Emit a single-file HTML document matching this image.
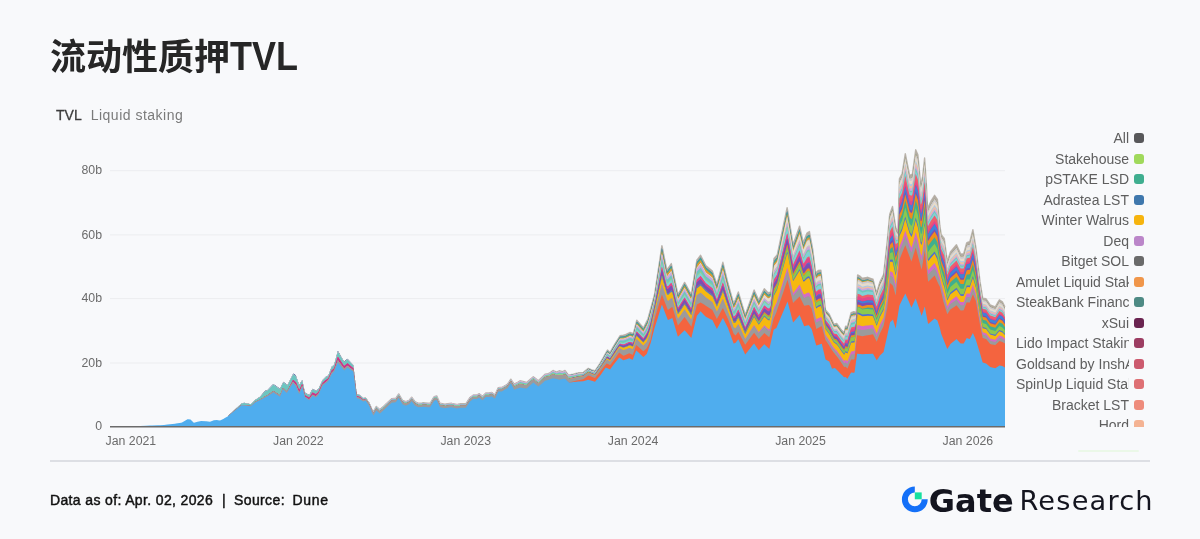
<!DOCTYPE html>
<html lang="zh"><head><meta charset="utf-8"><title>流动性质押TVL</title>
<style>
html,body{margin:0;padding:0}
body{width:1200px;height:539px;background:#f8f9fb;position:relative;overflow:hidden;font-family:"Liberation Sans","Noto Sans CJK SC",sans-serif}
.title{position:absolute;left:50px;top:32.5px;font-size:36px;line-height:50px;font-weight:700;color:#262626;white-space:nowrap;letter-spacing:0}
.lat{display:inline-block;transform:scaleY(1.14);transform-origin:50% 76%}
.sub{position:absolute;left:56px;top:106px;font-size:14px;line-height:18px;color:#7a7a7a;white-space:nowrap;letter-spacing:0.5px}
.sub b{font-weight:400;color:#3c3c3c;-webkit-text-stroke:0.3px #3c3c3c;margin-right:9px;letter-spacing:0}
svg.chart{position:absolute;left:0;top:0}
svg.chart text{font-family:"Liberation Sans",sans-serif;font-size:12.3px;fill:#6b6b6b}
.legend{position:absolute;left:1016px;top:128px;width:130px;height:299px;overflow:hidden}
.li{height:20.5px;display:flex;align-items:center;justify-content:flex-end}
.lt{display:block;width:113px;overflow:hidden;white-space:nowrap;text-align:right;font-size:14px;line-height:20.5px;color:#5e5e5e}
.li i{display:block;width:10px;height:10px;border-radius:3px;margin-left:5px;margin-right:2px;flex:none}
.rule{position:absolute;left:50px;top:459.9px;width:1100.4px;height:1.9px;background:#dddfe4}
.gl{position:absolute;left:1078px;top:450px;width:61px;height:1.8px;border-radius:1px;background:#ebf8e8}
.foot{position:absolute;left:50px;top:490px;font-size:14px;line-height:20px;color:#111;white-space:nowrap;font-weight:400;-webkit-text-stroke:0.45px #111;letter-spacing:0.36px}
.lg{position:absolute;left:928.8px;top:480.6px;font-family:"DejaVu Sans","Liberation Sans",sans-serif;font-weight:700;font-size:32px;line-height:40px;color:#14151f;white-space:nowrap;letter-spacing:0}
.lr{position:absolute;left:1019.5px;top:480.8px;font-family:"DejaVu Sans","Liberation Sans",sans-serif;font-weight:400;font-size:27.2px;line-height:40px;color:#14151f;white-space:nowrap;letter-spacing:1.2px}
#wrap{position:absolute;left:0;top:0;width:1200px;height:539px;will-change:transform;transform:translateZ(0)}
</style></head><body><div id="wrap">
<div class="title">流动性质押<span class="lat">TVL</span></div>
<div class="sub"><b>TVL</b>Liquid staking</div>
<svg class="chart" width="1200" height="539" viewBox="0 0 1200 539">
<line x1="110" x2="1005" y1="170.7" y2="170.7" stroke="#ecedef" stroke-width="1"/>
<line x1="110" x2="1005" y1="234.9" y2="234.9" stroke="#ecedef" stroke-width="1"/>
<line x1="110" x2="1005" y1="298.6" y2="298.6" stroke="#ecedef" stroke-width="1"/>
<line x1="110" x2="1005" y1="363" y2="363" stroke="#ecedef" stroke-width="1"/>
<path d="M373.3,411.6L374,410.5L376.3,406.4L379.7,409.6L380,409.4L386,403.9L386.7,403.3L391.7,398.8L392,398.8L395.8,398.3L398,394.9L398.7,393.9L402.5,400.3L404,400.9L405.8,401.7L409.2,400.3L410,399.3L411.7,397.2L415,401.7L416,402.2L418.3,403.3L422,403L423.3,402.8L428,403.2L430,403.3L434,396.9L434.2,396.7L436.7,395.9L440,403.3L445,404.2L446,404L451.7,403.3L452,403.4L456.7,404.5L458,404.3L460.8,403.8L464,403.8L465.8,403.8L470,397.5L473.3,395L476,395L476.7,395L479.2,393.7L482,395.9L482.5,396.3L485.8,393L488,393L489.2,393L491.7,392.5L494,394L495,394.7L498.3,387.6L500,387.5L501.7,387.5L506,385L507.5,384.2L510.8,379.2L512,380.9L514.2,384.1L518,382L520,380.8L524,381.8L526.7,382.5L530,379.6L533.3,376.7L536,378.9L538.3,380.8L542,377.2L545,374.2L548,373.6L549.2,373.3L553,370.5L554,371L556.7,372.1L559.2,370.8L560,371L562.5,371.7L565,370.5L566,371.8L568.3,375L569.2,374.9L572,374.4L573.3,374.2L576.7,373.3L578,372.9L578.3,372.8L583.3,372.5L584,371.9L588.3,368.4L590,369.2L591.7,370L595,370.8L596,369.3L600,363.3L602,359.8L603.3,357.6L605.8,353.1L606.7,351.4L607.5,350L608,350.5L610,352.5L613.3,346.7L614,345.5L614.5,344.6L619.2,337.1L620,335.8L620.1,335.7L623.3,335.1L625.6,334.6L626,334.4L629.2,332.8L630.1,332.4L632,333.1L632.8,333.3L633.4,333.5L636.2,322.4L636.8,320.2L638,321.6L643.3,327.8L643.4,327.9L644,326.8L646.7,321.4L647.9,319L650,311.3L650.5,309.5L650.8,308.4L654.6,294.3L656,285L661.9,245.7L662,246L666.8,270L667.9,268.4L668,268.3L671.3,263.6L672.4,268.7L674,276.2L677.9,294.4L680,290.8L684.6,282.4L686,284.8L691.3,294.6L692,290.2L696.9,260L698,258.6L700.6,255.2L704,262L705.8,265.6L710,269.1L712.4,271.1L716,281.8L716.9,284.5L722,265.7L722.9,262.3L728,283.3L733.6,303.5L734,302.6L735.6,299.2L738.3,292L740,297.4L745.2,315L746,312.8L752,295.9L754.1,290L758,298.5L758.8,300.1L764,289.3L764.3,288.7L768,292.7L769.3,292.3L770,292.1L770.8,291.8L773.6,262.4L774,258.4L776,256.2L776.4,255.7L777.3,254.7L782,232.2L787.1,207.6L787.5,209.7L788,212.8L793.1,244.5L794,241.9L799.6,226.1L800,227.9L803.3,242.6L804.2,240.3L806,235.6L807,233L808.8,231.9L809.4,231.5L811.6,243.2L812,245.3L812.6,248.6L815.7,273.2L816.3,272.6L818,270.6L818.1,270.5L820.9,270.1L821.8,278L823.7,294.7L824,297.2L825.5,310L829.3,314.2L830,315.7L832,320.1L833.9,324.3L834.8,324L836,323.6L836.7,323.4L838.5,325.9L841.3,329.8L842,330.6L844.1,332.7L845.6,326.1L847.4,326.5L848,324.3L851.1,312.7L853.9,311.6L854,311.7L854.5,311.9L856.3,312.6L857.1,289.7L857.6,274.9L860,276.2L862.3,278.2L866,277.6L867.8,277.3L872,278.8L873,279.2L876.5,292.9L876.7,292.6L878,288.2L879.9,281.9L883.6,274.5L884,270.8L887.3,240.3L889.7,214.4L890,213.4L890.1,213.2L892.5,206.4L892.9,209L895.7,227.3L896,228.1L897.9,232.2L899.4,178.9L902,173.7L902.2,173.1L905.3,153.6L908,167.2L909.6,175.2L911.4,174.6L912.4,174L914,162.3L915.7,149.8L917.9,154.8L920,177L920.7,184.5L921.6,180.9L922.6,176.7L924.6,158L924.8,160.9L926,178.7L926.3,183.3L927.6,208.6L928.1,207.5L930.9,201.2L932,199.5L934.6,195.3L937.4,199.4L938,205.8L938.3,209L939.8,225.2L941.2,234.3L943.3,237.3L944,238.2L944.3,238.7L947.3,261.7L950,253.2L950.4,251.9L956,245.3L956.5,244.7L960.6,253.9L962,253.9L963.7,253.8L966.7,242.8L968,242.2L969.8,241.6L972.9,229.6L974,236.2L975.9,247.6L980,281.4L982.7,298.2L986,298.8L986.1,298.8L990.2,304.9L992,305.6L995.3,306.9L998,302.2L999.4,299.8L1002.4,301.8L1004,305.1L1004.9,306.9L1005,306.9" fill="none" stroke="#bdb7b0" stroke-width="1.4" stroke-linejoin="round"/>
<path d="M228.8,426.3V415.4L230,414.2L236,408.6L241.7,403.3L242,403.2L244.2,402.7L248,403.5L250.8,404.2L254,401L255,400L260,396.7L265,390.8L266,390.5L267.5,390L272,385.2L273.3,383.9L278,387.2L280,388.7L283,382.4L283.3,381.7L284,382.2L286.7,384.4L287.5,385L290,380L293,374L293.3,373.4L295.8,375.3L296,375.8L299.2,384.9L302,380.3L302.2,380.1L305,392.5L308,394.3L309.2,394.9L312.5,388.8L314,389.6L315.8,390.5L318.3,389.2L320,385.5L322.5,380L325.8,376.7L326,376.6L328.3,375.5L331.7,366.6L332,366.4L334.2,364.5L337.8,351L338,351.1L344,361.4L344.2,361.6L347.5,358.8L350,361.5L353.3,365L356,387.9L356.7,393.7L360,395L362,396.8L363.3,398L365.8,397.7L368,400.8L369.2,402.6L373.3,411.6L374,410.5L376.3,406.4L379.7,409.6L380,409.4L386,403.9L386.7,403.3L391.7,398.8L392,398.8L395.8,398.3L398,394.9L398.7,393.9L402.5,400.3L404,400.9L405.8,401.7L409.2,400.3L410,399.3L411.7,397.2L415,401.7L416,402.2L418.3,403.3L422,403L423.3,402.8L428,403.2L430,403.3L434,396.9L434.2,396.7L436.7,395.9L440,403.3L445,404.2L446,404L451.7,403.3L452,403.4L456.7,404.5L458,404.3L460.8,403.8L464,403.8L465.8,403.8L470,397.5L473.3,395L476,395L476.7,395L479.2,393.7L482,395.9L482.5,396.3L485.8,393L488,393L489.2,393L491.7,392.5L494,394L495,394.7L498.3,387.6L500,387.5L501.7,387.5L506,385L507.5,384.2L510.8,379.2L512,380.9L514.2,384.1L518,382L520,380.8L524,381.8L526.7,382.5L530,379.6L533.3,376.7L536,378.9L538.3,380.8L542,377.2L545,374.2L548,373.6L549.2,373.3L553,370.5L554,371L556.7,372.1L559.2,370.8L560,371L562.5,371.7L565,370.5L566,371.8L568.3,375L569.2,374.9L572,374.4L573.3,374.2L576.7,373.3L578,372.9L578.3,372.8L583.3,372.5L584,371.9L588.3,368.4L590,369.2L591.7,370L595,370.8L596,369.3L600,363.3L602,359.8L603.3,357.6L605.8,353.1L606.7,351.4L607.5,350L608,350.5L610,352.5L613.3,346.7L614,345.5L614.5,344.6L619.2,337.1L620,335.8L620.1,335.7L623.3,335.1L625.6,334.6L626,334.4L629.2,332.8L630.1,332.4L632,333.1L632.8,333.3L633.4,333.5L636.2,322.4L636.8,320.2L638,321.6L643.3,327.8L643.4,327.9L644,326.8L646.7,321.4L647.9,319L650,311.3L650.5,309.5L650.8,308.4L654.6,294.3L656,285L661.9,245.7L662,246L666.8,270L667.9,268.4L668,268.3L671.3,263.6L672.4,268.7L674,276.2L677.9,294.4L680,290.8L684.6,282.4L686,284.8L691.3,294.6L692,290.2L696.9,260L698,258.6L700.6,255.2L704,262L705.8,265.6L710,269.1L712.4,271.1L716,281.8L716.9,284.5L722,265.7L722.9,262.3L728,283.3L733.6,303.5L734,302.6L735.6,299.2L738.3,292L740,297.4L745.2,315L746,312.8L752,295.9L754.1,290L758,298.5L758.8,300.1L764,289.3L764.3,288.7L768,292.7L769.3,292.3L770,292.1L770.8,291.8L773.6,262.4L774,258.4L776,256.2L776.4,255.7L777.3,254.7L782,232.2L787.1,207.6L787.5,209.7L788,212.8L793.1,244.5L794,241.9L799.6,226.1L800,227.9L803.3,242.6L804.2,240.3L806,235.6L807,233L808.8,231.9L809.4,231.5L811.6,243.2L812,245.3L812.6,248.6L815.7,273.2L816.3,272.6L818,270.6L818.1,270.5L820.9,270.1L821.8,278L823.7,294.7L824,297.2L825.5,310L829.3,314.2L830,315.7L832,320.1L833.9,324.3L834.8,324L836,323.6L836.7,323.4L838.5,325.9L841.3,329.8L842,330.6L844.1,332.7L845.6,326.1L847.4,326.5L848,324.3L851.1,312.7L853.9,311.6L854,311.7L854.5,311.9L856.3,312.6L857.1,289.7L857.6,274.9L860,276.2L862.3,278.2L866,277.6L867.8,277.3L872,278.8L873,279.2L876.5,292.9L876.7,292.6L878,288.2L879.9,281.9L883.6,274.5L884,270.8L887.3,240.3L889.7,214.4L890,213.4L890.1,213.2L892.5,206.4L892.9,209L895.7,227.3L896,228.1L897.9,232.2L899.4,178.9L902,173.7L902.2,173.1L905.3,153.6L908,167.2L909.6,175.2L911.4,174.6L912.4,174L914,162.3L915.7,149.8L917.9,154.8L920,177L920.7,184.5L921.6,180.9L922.6,176.7L924.6,158L924.8,160.9L926,178.7L926.3,183.3L927.6,208.6L928.1,207.5L930.9,201.2L932,199.5L934.6,195.3L937.4,199.4L938,205.8L938.3,209L939.8,225.2L941.2,234.3L943.3,237.3L944,238.2L944.3,238.7L947.3,261.7L950,253.2L950.4,251.9L956,245.3L956.5,244.7L960.6,253.9L962,253.9L963.7,253.8L966.7,242.8L968,242.2L969.8,241.6L972.9,229.6L974,236.2L975.9,247.6L980,281.4L982.7,298.2L986,298.8L986.1,298.8L990.2,304.9L992,305.6L995.3,306.9L998,302.2L999.4,299.8L1002.4,301.8L1004,305.1L1004.9,306.9L1005,306.9V426.3Z" fill="#b3aca2"/>
<path d="M228.8,426.3V415.4L230,414.2L236,408.6L241.7,403.3L242,403.2L244.2,402.7L248,403.5L250.8,404.2L254,401L255,400L260,396.7L265,390.8L266,390.5L267.5,390L272,385.2L273.3,383.9L278,387.2L280,388.7L283,382.4L283.3,381.7L284,382.2L286.7,384.4L287.5,385L290,380L293,374L293.3,373.4L295.8,375.3L296,375.8L299.2,384.9L302,380.3L302.2,380.1L305,392.5L308,394.3L309.2,394.9L312.5,388.8L314,389.6L315.8,390.5L318.3,389.2L320,385.5L322.5,380L325.8,376.7L326,376.6L328.3,375.5L331.7,366.6L332,366.4L334.2,364.5L337.8,351L338,351.1L344,361.4L344.2,361.6L347.5,358.8L350,361.5L353.3,365L356,387.9L356.7,393.7L360,395L362,396.8L363.3,398L365.8,397.7L368,400.8L369.2,402.6L373.3,411.6L374,410.5L376.3,406.4L379.7,409.6L380,409.4L386,404L386.7,403.3L391.7,398.9L392,398.8L395.8,398.4L398,394.9L398.7,393.9L402.5,400.4L404,401L405.8,401.7L409.2,400.3L410,399.3L411.7,397.3L415,401.7L416,402.2L418.3,403.4L422,403L423.3,402.9L428,403.2L430,403.4L434,397L434.2,396.7L436.7,396L440,403.4L445,404.2L446,404.1L451.7,403.4L452,403.5L456.7,404.6L458,404.4L460.8,403.9L464,403.9L465.8,403.9L470,397.6L473.3,395.1L476,395.1L476.7,395.1L479.2,393.8L482,396.1L482.5,396.5L485.8,393.2L488,393.1L489.2,393.1L491.7,392.6L494,394.1L495,394.8L498.3,387.7L500,387.6L501.7,387.6L506,385.2L507.5,384.3L510.8,379.4L512,381.1L514.2,384.4L518,382.2L520,381.1L524,382.1L526.7,382.7L530,379.8L533.3,376.9L536,379.1L538.3,381.1L542,377.5L545,374.5L548,373.9L549.2,373.6L553,370.9L554,371.3L556.7,372.5L559.2,371.3L560,371.5L562.5,372L565,370.9L566,372.3L568.3,375.3L569.2,375.3L572,374.8L573.3,374.6L576.7,373.7L578,373.4L578.3,373.3L583.3,372.9L584,372.4L588.3,368.8L590,369.6L591.7,370.4L595,371.3L596,369.8L600,363.9L602,360.5L603.3,358.2L605.8,353.8L606.7,352.2L607.5,350.9L608,351.4L610,353.4L613.3,347.6L614,346.4L614.5,345.6L619.2,338.1L620,336.9L620.1,336.8L623.3,336.4L625.6,335.9L626,335.7L629.2,334.1L630.1,333.7L632,334.3L632.8,334.6L633.4,334.7L636.2,323.7L636.8,321.7L638,323L643.3,329.1L643.4,329.2L644,328.1L646.7,322.9L647.9,320.4L650,312.9L650.5,311.1L650.8,309.9L654.6,295.6L656,286.5L661.9,248.1L662,248.4L666.8,271.9L667.9,270.5L668,270.3L671.3,265.7L672.4,270.6L674,278L677.9,295.9L680,292.4L684.6,284.1L686,286.5L691.3,296.1L692,291.9L696.9,262.2L698,260.8L700.6,257.5L704,264.1L705.8,267.6L710,271.1L712.4,273.1L716,283.6L716.9,286.2L722,267.8L722.9,264.6L728,285.1L733.6,305L734,304.2L735.6,301L738.3,293.9L740,299.3L745.2,316.5L746,314.3L752,297.9L754.1,292.1L758,300.5L758.8,302L764,291.5L764.3,290.9L768,294.9L769.3,294.6L770,294.2L770.8,293.8L773.6,265.1L774,261.3L776,259L776.4,258.5L777.3,257.4L782,235.2L787.1,211.1L787.5,213L788,216L793.1,247.2L794,244.7L799.6,229.3L800,231.1L803.3,245.4L804.2,243.2L806,238.7L807,236.3L808.8,235.2L809.4,234.8L811.6,246L812,248.1L812.6,251.4L815.7,275.5L816.3,275.1L818,273.1L818.1,273L820.9,272.6L821.8,280L823.7,296.3L824,298.8L825.5,311.3L829.3,315.5L830,317L832,321.4L833.9,325.5L834.8,325.2L836,324.9L836.7,324.7L838.5,327.3L841.3,331.2L842,331.9L844.1,334L845.6,327.7L847.4,328.1L848,326L851.1,314.5L853.9,313.5L854,313.5L854.5,313.7L856.3,313.7L857.1,291.4L857.6,277.2L860,278.5L862.3,280.5L866,279.8L867.8,279.5L872,280.9L873,281.3L876.5,294.7L876.7,294.5L878,290.2L879.9,283.9L883.6,276.5L884,272.9L887.3,242.9L889.7,217.2L890,216.1L890.1,215.8L892.5,209.5L892.9,212L895.7,229.9L896,230.5L897.9,233.8L899.4,182L902,176.8L902.2,176.2L905.3,157.2L908,170.6L909.6,178.5L911.4,178.1L912.4,177.4L914,165.9L915.7,153.8L917.9,158.9L920,180.5L920.7,187.8L921.6,184.6L922.6,180.3L924.6,161.8L924.8,164.6L926,182.1L926.3,186.6L927.6,211.4L928.1,210.5L930.9,204.5L932,202.8L934.6,198.7L937.4,202.8L938,209.1L938.3,212.2L939.8,227.8L941.2,236.8L943.3,240L944,241L944.3,241.5L947.3,264L950,255.7L950.4,254.4L956,248L956.5,247.4L960.6,256.4L962,256.4L963.7,256.3L966.7,245.5L968,245L969.8,244.4L972.9,232.6L974,239L975.9,250.1L980,283.4L982.7,300L986,300.6L986.1,300.7L990.2,306.8L992,307.5L995.3,308.8L998,304.2L999.4,301.8L1002.4,303.8L1004,306.9L1004.9,308.7L1005,308.7V426.3Z" fill="#3b5aa8"/>
<path d="M228.8,426.3V415.4L230,414.2L236,408.7L241.7,403.5L242,403.4L244.2,402.9L248,403.7L250.8,404.3L254,401.2L255,400.2L260,397L265,391.4L266,391.1L267.5,390.5L272,385.9L273.3,384.6L278,387.9L280,389.3L283,382.9L283.3,382.4L284,382.9L286.7,385.1L287.5,385.5L290,380.6L293,374.7L293.3,374.2L295.8,376.2L296,376.7L299.2,385.7L302,380.8L302.2,380.7L305,392.9L308,394.7L309.2,395.4L312.5,389.4L314,390.1L315.8,391L318.3,389.7L320,386L322.5,380.5L325.8,377.2L326,377.1L328.3,375.9L331.7,367.2L332,367L334.2,365.1L337.8,351.9L338,352L344,362.1L344.2,362.3L347.5,359.5L350,362.1L353.3,365.5L356,388.3L356.7,394L360,395.2L362,397L363.3,398.1L365.8,397.8L368,400.9L369.2,402.6L373.3,411.6L374,410.5L376.3,406.4L379.7,409.6L380,409.4L386,404L386.7,403.3L391.7,398.9L392,398.8L395.8,398.4L398,394.9L398.7,393.9L402.5,400.4L404,401L405.8,401.7L409.2,400.3L410,399.3L411.7,397.3L415,401.7L416,402.2L418.3,403.4L422,403L423.3,402.9L428,403.2L430,403.4L434,397L434.2,396.7L436.7,396L440,403.4L445,404.2L446,404.1L451.7,403.4L452,403.5L456.7,404.6L458,404.4L460.8,403.9L464,403.9L465.8,403.9L470,397.6L473.3,395.1L476,395.1L476.7,395.1L479.2,393.8L482,396.1L482.5,396.5L485.8,393.2L488,393.1L489.2,393.1L491.7,392.6L494,394.1L495,394.8L498.3,387.7L500,387.6L501.7,387.6L506,385.2L507.5,384.3L510.8,379.4L512,381.1L514.2,384.4L518,382.2L520,381.1L524,382.1L526.7,382.7L530,379.8L533.3,376.9L536,379.1L538.3,381.1L542,377.5L545,374.5L548,373.9L549.2,373.6L553,370.9L554,371.3L556.7,372.5L559.2,371.3L560,371.5L562.5,372L565,370.9L566,372.3L568.3,375.3L569.2,375.3L572,374.8L573.3,374.6L576.7,373.7L578,373.4L578.3,373.3L583.3,372.9L584,372.4L588.3,368.8L590,369.6L591.7,370.4L595,371.3L596,369.8L600,363.9L602,360.5L603.3,358.2L605.8,353.8L606.7,352.2L607.5,350.9L608,351.4L610,353.4L613.3,347.6L614,346.4L614.5,345.6L619.2,338.1L620,336.9L620.1,336.8L623.3,336.4L625.6,335.9L626,335.7L629.2,334.1L630.1,333.7L632,334.3L632.8,334.6L633.4,334.7L636.2,323.7L636.8,321.7L638,323L643.3,329.1L643.4,329.2L644,328.1L646.7,322.9L647.9,320.4L650,312.9L650.5,311.1L650.8,309.9L654.6,295.6L656,286.5L661.9,248.1L662,248.4L666.8,271.9L667.9,270.5L668,270.3L671.3,265.7L672.4,270.6L674,278L677.9,295.9L680,292.4L684.6,284.1L686,286.5L691.3,296.1L692,291.9L696.9,262.2L698,260.8L700.6,257.5L704,264.1L705.8,267.6L710,271.1L712.4,273.1L716,283.6L716.9,286.2L722,267.8L722.9,264.6L728,285.1L733.6,305L734,304.2L735.6,301L738.3,293.9L740,299.3L745.2,316.5L746,314.3L752,297.9L754.1,292.1L758,300.5L758.8,302L764,291.5L764.3,290.9L768,294.9L769.3,294.6L770,294.2L770.8,293.8L773.6,265.1L774,261.3L776,259L776.4,258.5L777.3,257.4L782,235.2L787.1,211.1L787.5,213L788,216L793.1,247.2L794,244.7L799.6,229.3L800,231.1L803.3,245.4L804.2,243.2L806,238.7L807,236.3L808.8,235.2L809.4,234.8L811.6,246L812,248.1L812.6,251.4L815.7,275.5L816.3,275.1L818,273.1L818.1,273L820.9,272.6L821.8,280L823.7,296.3L824,298.8L825.5,311.3L829.3,315.5L830,317L832,321.4L833.9,325.5L834.8,325.2L836,324.9L836.7,324.7L838.5,327.3L841.3,331.2L842,331.9L844.1,334L845.6,327.7L847.4,328.1L848,326L851.1,314.5L853.9,313.5L854,313.5L854.5,313.7L856.3,313.7L857.1,291.4L857.6,277.2L860,278.5L862.3,280.5L866,279.8L867.8,279.5L872,280.9L873,281.3L876.5,294.7L876.7,294.5L878,290.2L879.9,283.9L883.6,276.5L884,272.9L887.3,242.9L889.7,217.2L890,216.1L890.1,215.8L892.5,209.5L892.9,212L895.7,229.9L896,230.5L897.9,233.8L899.4,182L902,176.8L902.2,176.2L905.3,157.2L908,170.6L909.6,178.5L911.4,178.1L912.4,177.4L914,165.9L915.7,153.8L917.9,158.9L920,180.5L920.7,187.8L921.6,184.6L922.6,180.3L924.6,161.8L924.8,164.6L926,182.1L926.3,186.6L927.6,211.4L928.1,210.5L930.9,204.5L932,202.8L934.6,198.7L937.4,202.8L938,209.1L938.3,212.2L939.8,227.8L941.2,236.8L943.3,240L944,241L944.3,241.5L947.3,264L950,255.7L950.4,254.4L956,248L956.5,247.4L960.6,256.4L962,256.4L963.7,256.3L966.7,245.5L968,245L969.8,244.4L972.9,232.6L974,239L975.9,250.1L980,283.4L982.7,300L986,300.6L986.1,300.7L990.2,306.8L992,307.5L995.3,308.8L998,304.2L999.4,301.8L1002.4,303.8L1004,306.9L1004.9,308.7L1005,308.7V426.3Z" fill="#41a796"/>
<path d="M228.8,426.3V415.4L230,414.2L236,408.7L241.7,403.5L242,403.4L244.2,402.9L248,403.7L250.8,404.3L254,401.2L255,400.2L260,397L265,391.4L266,391.1L267.5,390.5L272,385.9L273.3,384.6L278,387.9L280,389.3L283,382.9L283.3,382.4L284,382.9L286.7,385.1L287.5,385.5L290,380.6L293,374.7L293.3,374.2L295.8,376.2L296,376.7L299.2,385.7L302,380.8L302.2,380.7L305,392.9L308,394.7L309.2,395.4L312.5,389.4L314,390.1L315.8,391L318.3,389.7L320,386L322.5,380.5L325.8,377.2L326,377.1L328.3,375.9L331.7,367.2L332,367L334.2,365.1L337.8,351.9L338,352L344,362.1L344.2,362.3L347.5,359.5L350,362.1L353.3,365.5L356,388.3L356.7,394L360,395.2L362,397L363.3,398.1L365.8,397.8L368,400.9L369.2,402.6L373.3,411.6L374,410.5L376.3,406.4L379.7,409.6L380,409.4L386,404L386.7,403.3L391.7,398.9L392,398.8L395.8,398.4L398,394.9L398.7,393.9L402.5,400.4L404,401L405.8,401.7L409.2,400.3L410,399.3L411.7,397.3L415,401.7L416,402.2L418.3,403.4L422,403L423.3,402.9L428,403.2L430,403.4L434,397L434.2,396.7L436.7,396L440,403.4L445,404.2L446,404.1L451.7,403.4L452,403.5L456.7,404.6L458,404.4L460.8,403.9L464,403.9L465.8,403.9L470,397.6L473.3,395.1L476,395.1L476.7,395.1L479.2,393.8L482,396.1L482.5,396.5L485.8,393.2L488,393.1L489.2,393.1L491.7,392.6L494,394.1L495,394.8L498.3,387.7L500,387.6L501.7,387.6L506,385.2L507.5,384.3L510.8,379.4L512,381.1L514.2,384.4L518,382.2L520,381.1L524,382.1L526.7,382.7L530,379.8L533.3,376.9L536,379.1L538.3,381.1L542,377.5L545,374.5L548,373.9L549.2,373.6L553,370.9L554,371.3L556.7,372.5L559.2,371.3L560,371.5L562.5,372.1L565,371L566,372.4L568.3,375.4L569.2,375.4L572,375L573.3,374.8L576.7,373.9L578,373.6L578.3,373.5L583.3,373.2L584,372.7L588.3,369.2L590,370L591.7,370.9L595,371.8L596,370.4L600,364.6L602,361.2L603.3,359L605.8,354.7L606.7,353.2L607.5,352L608,352.4L610,354.3L613.3,348.7L614,347.5L614.5,346.6L619.2,339.2L620,338.1L620.1,338.1L623.3,337.8L625.6,337.2L626,337L629.2,335.4L630.1,335L632,335.7L632.8,335.9L633.4,335.9L636.2,325.1L636.8,323.2L638,324.5L643.3,330.4L643.4,330.5L644,329.5L646.7,324.4L647.9,321.9L650,314.5L650.5,312.7L650.8,311.6L654.6,296.8L656,288L661.9,250.5L662,250.8L666.8,273.7L667.9,272.5L668,272.4L671.3,267.9L672.4,272.5L674,279.7L677.9,297.4L680,294L684.6,285.7L686,288.2L691.3,297.7L692,293.5L696.9,264.4L698,263.1L700.6,259.9L704,266.2L705.8,269.6L710,273L712.4,275L716,285.3L716.9,287.9L722,270L722.9,266.8L728,286.8L733.6,306.4L734,305.7L735.6,302.7L738.3,295.9L740,301.1L745.2,317.8L746,315.8L752,299.7L754.1,294L758,302.2L758.8,303.7L764,293.4L764.3,292.8L768,296.6L769.3,296.4L770,295.9L770.8,295.3L773.6,267.4L774,263.7L776,261.2L776.4,260.7L777.3,259.5L782,237.6L787.1,213.7L787.5,215.5L788,218.5L793.1,249.2L794,246.7L799.6,231.6L800,233.3L803.3,247.4L804.2,245.3L806,240.9L807,238.5L808.8,237.4L809.4,237.1L811.6,248L812,250.1L812.6,253.3L815.7,277L816.3,276.7L818,274.8L818.1,274.6L820.9,274.1L821.8,281.3L823.7,297.4L824,299.8L825.5,312L829.3,316.3L830,317.8L832,322.1L833.9,326.2L834.8,325.9L836,325.7L836.7,325.5L838.5,328L841.3,331.9L842,332.6L844.1,334.8L845.6,328.6L847.4,329L848,326.9L851.1,315.4L853.9,314.4L854,314.4L854.5,314.6L856.3,314.3L857.1,292.3L857.6,278.3L860,279.6L862.3,281.4L866,280.7L867.8,280.3L872,281.6L873,281.9L876.5,295.2L876.7,295L878,290.6L879.9,284.3L883.6,276.9L884,273.2L887.3,243.2L889.7,217.5L890,216.4L890.1,216.1L892.5,209.7L892.9,212.2L895.7,230L896,230.6L897.9,233.9L899.4,182L902,176.8L902.2,176.2L905.3,157.2L908,170.6L909.6,178.5L911.4,178.1L912.4,177.4L914,165.9L915.7,153.8L917.9,158.9L920,180.5L920.7,187.8L921.6,184.6L922.6,180.3L924.6,161.8L924.8,164.6L926,182.1L926.3,186.6L927.6,211.4L928.1,210.5L930.9,204.5L932,202.8L934.6,198.7L937.4,202.8L938,209.1L938.3,212.2L939.8,227.8L941.2,236.8L943.3,240L944,241L944.3,241.5L947.3,264L950,255.7L950.4,254.4L956,248L956.5,247.4L960.6,256.4L962,256.4L963.7,256.3L966.7,245.5L968,245L969.8,244.4L972.9,232.6L974,239L975.9,250.1L980,283.4L982.7,300L986,300.6L986.1,300.7L990.2,306.8L992,307.5L995.3,308.8L998,304.2L999.4,301.8L1002.4,303.8L1004,306.9L1004.9,308.7L1005,308.7V426.3Z" fill="#dd9a2e"/>
<path d="M228.8,426.3V415.4L230,414.2L236,408.7L241.7,403.5L242,403.4L244.2,402.9L248,403.7L250.8,404.3L254,401.2L255,400.2L260,397L265,391.4L266,391.1L267.5,390.5L272,385.9L273.3,384.6L278,387.9L280,389.3L283,382.9L283.3,382.4L284,382.9L286.7,385.1L287.5,385.5L290,380.6L293,374.7L293.3,374.2L295.8,376.2L296,376.7L299.2,385.7L302,380.8L302.2,380.7L305,392.9L308,394.7L309.2,395.4L312.5,389.4L314,390.1L315.8,391L318.3,389.7L320,386L322.5,380.5L325.8,377.2L326,377.1L328.3,375.9L331.7,367.2L332,367L334.2,365.1L337.8,351.9L338,352L344,362.1L344.2,362.3L347.5,359.5L350,362.1L353.3,365.5L356,388.3L356.7,394L360,395.2L362,397L363.3,398.1L365.8,397.8L368,400.9L369.2,402.6L373.3,411.6L374,410.5L376.3,406.4L379.7,409.6L380,409.4L386,404L386.7,403.3L391.7,398.9L392,398.8L395.8,398.4L398,394.9L398.7,393.9L402.5,400.4L404,401L405.8,401.7L409.2,400.3L410,399.3L411.7,397.3L415,401.7L416,402.2L418.3,403.4L422,403L423.3,402.9L428,403.2L430,403.4L434,397L434.2,396.7L436.7,396L440,403.4L445,404.2L446,404.1L451.7,403.4L452,403.5L456.7,404.6L458,404.4L460.8,403.9L464,403.9L465.8,403.9L470,397.6L473.3,395.1L476,395.1L476.7,395.1L479.2,393.8L482,396.1L482.5,396.5L485.8,393.2L488,393.1L489.2,393.1L491.7,392.6L494,394.1L495,394.8L498.3,387.7L500,387.6L501.7,387.6L506,385.2L507.5,384.3L510.8,379.4L512,381.1L514.2,384.4L518,382.2L520,381.1L524,382.1L526.7,382.7L530,379.8L533.3,376.9L536,379.1L538.3,381.1L542,377.5L545,374.5L548,373.9L549.2,373.6L553,370.9L554,371.3L556.7,372.5L559.2,371.3L560,371.5L562.5,372.1L565,371L566,372.4L568.3,375.5L569.2,375.5L572,375L573.3,374.8L576.7,374L578,373.7L578.3,373.6L583.3,373.3L584,372.8L588.3,369.4L590,370.2L591.7,371L595,372L596,370.6L600,364.8L602,361.5L603.3,359.3L605.8,355.1L606.7,353.6L607.5,352.5L608,352.9L610,354.8L613.3,349.2L614,348L614.5,347.2L619.2,339.8L620,338.9L620.1,338.8L623.3,338.7L625.6,338.2L626,338L629.2,336.4L630.1,336.1L632,336.7L632.8,337L633.4,336.9L636.2,326.3L636.8,324.6L638,325.9L643.3,331.8L643.4,331.9L644,330.9L646.7,326L647.9,323.5L650,316.3L650.5,314.6L650.8,313.4L654.6,298.5L656,289.9L661.9,253.8L662,254.2L666.8,276.2L667.9,275.4L668,275.3L671.3,270.9L672.4,275.1L674,282.2L677.9,299.6L680,296.2L684.6,288.1L686,290.5L691.3,300L692,295.9L696.9,267.5L698,266.2L700.6,263.1L704,269.1L705.8,272.4L710,275.8L712.4,277.7L716,287.8L716.9,290.3L722,273L722.9,270L728,289.3L733.6,308.5L734,307.9L735.6,305.2L738.3,298.5L740,303.5L745.2,319.7L746,317.6L752,301.9L754.1,296.3L758,304.2L758.8,305.7L764,295.4L764.3,294.8L768,298.5L769.3,298.3L770,297.6L770.8,296.9L773.6,269.6L774,266L776,263.4L776.4,262.9L777.3,261.6L782,240L787.1,216.4L787.5,218L788,221L793.1,251.2L794,248.8L799.6,233.9L800,235.6L803.3,249.3L804.2,247.4L806,243.1L807,240.7L808.8,239.6L809.4,239.3L811.6,249.9L812,252L812.6,255.2L815.7,278.6L816.3,278.3L818,276.4L818.1,276.3L820.9,275.7L821.8,282.7L823.7,298.4L824,300.8L825.5,312.8L829.3,317.1L830,318.6L832,322.9L833.9,326.9L834.8,326.7L836,326.4L836.7,326.3L838.5,328.8L841.3,332.7L842,333.4L844.1,335.5L845.6,329.5L847.4,329.9L848,327.8L851.1,316.4L853.9,315.3L854,315.4L854.5,315.5L856.3,314.8L857.1,293.1L857.6,279.4L860,280.6L862.3,282.3L866,281.5L867.8,281.1L872,282.3L873,282.6L876.5,295.7L876.7,295.4L878,291.1L879.9,284.8L883.6,277.2L884,273.6L887.3,243.6L889.7,217.8L890,216.7L890.1,216.4L892.5,210L892.9,212.4L895.7,230.2L896,230.8L897.9,233.9L899.4,182L902,176.8L902.2,176.2L905.3,157.2L908,170.6L909.6,178.5L911.4,178.1L912.4,177.4L914,165.9L915.7,153.8L917.9,158.9L920,180.5L920.7,187.8L921.6,184.6L922.6,180.3L924.6,161.8L924.8,164.6L926,182.1L926.3,186.6L927.6,211.4L928.1,210.5L930.9,204.5L932,202.8L934.6,198.7L937.4,202.8L938,209.1L938.3,212.2L939.8,227.8L941.2,236.8L943.3,240L944,241L944.3,241.5L947.3,264L950,255.7L950.4,254.4L956,248L956.5,247.4L960.6,256.4L962,256.4L963.7,256.3L966.7,245.5L968,245L969.8,244.4L972.9,232.6L974,239L975.9,250.1L980,283.4L982.7,300L986,300.6L986.1,300.7L990.2,306.8L992,307.5L995.3,308.8L998,304.2L999.4,301.8L1002.4,303.8L1004,306.9L1004.9,308.7L1005,308.7V426.3Z" fill="#cbc9cf"/>
<path d="M228.8,426.3V415.4L230,414.2L236,408.7L241.7,403.5L242,403.4L244.2,402.9L248,403.7L250.8,404.3L254,401.2L255,400.2L260,397L265,391.4L266,391.1L267.5,390.5L272,385.9L273.3,384.6L278,387.9L280,389.3L283,382.9L283.3,382.4L284,382.9L286.7,385.1L287.5,385.5L290,380.6L293,374.7L293.3,374.2L295.8,376.2L296,376.7L299.2,385.7L302,380.8L302.2,380.7L305,392.9L308,394.7L309.2,395.4L312.5,389.4L314,390.1L315.8,391L318.3,389.7L320,386L322.5,380.5L325.8,377.2L326,377.1L328.3,375.9L331.7,367.2L332,367L334.2,365.1L337.8,351.9L338,352L344,362.1L344.2,362.3L347.5,359.5L350,362.1L353.3,365.5L356,388.3L356.7,394L360,395.2L362,397L363.3,398.1L365.8,397.8L368,400.9L369.2,402.6L373.3,411.6L374,410.5L376.3,406.4L379.7,409.6L380,409.4L386,404L386.7,403.3L391.7,398.9L392,398.8L395.8,398.4L398,394.9L398.7,393.9L402.5,400.4L404,401L405.8,401.7L409.2,400.3L410,399.3L411.7,397.3L415,401.7L416,402.2L418.3,403.4L422,403L423.3,402.9L428,403.2L430,403.4L434,397L434.2,396.7L436.7,396L440,403.4L445,404.2L446,404.1L451.7,403.4L452,403.5L456.7,404.6L458,404.4L460.8,403.9L464,403.9L465.8,403.9L470,397.6L473.3,395.1L476,395.1L476.7,395.1L479.2,393.8L482,396.1L482.5,396.5L485.8,393.2L488,393.1L489.2,393.1L491.7,392.6L494,394.1L495,394.8L498.3,387.7L500,387.6L501.7,387.6L506,385.2L507.5,384.3L510.8,379.4L512,381.1L514.2,384.4L518,382.2L520,381.1L524,382.1L526.7,382.7L530,379.8L533.3,376.9L536,379.1L538.3,381.1L542,377.5L545,374.5L548,373.9L549.2,373.6L553,370.9L554,371.3L556.7,372.5L559.2,371.3L560,371.5L562.5,372.1L565,371L566,372.4L568.3,375.5L569.2,375.5L572,375L573.3,374.8L576.7,374L578,373.7L578.3,373.6L583.3,373.3L584,372.8L588.3,369.4L590,370.2L591.7,371L595,372L596,370.6L600,364.8L602,361.5L603.3,359.3L605.8,355.1L606.7,353.6L607.5,352.5L608,352.9L610,354.8L613.3,349.2L614,348L614.5,347.2L619.2,339.8L620,338.9L620.1,338.8L623.3,338.7L625.6,338.2L626,338L629.2,336.4L630.1,336.1L632,336.7L632.8,337L633.4,336.9L636.2,326.3L636.8,324.6L638,325.9L643.3,331.8L643.4,331.9L644,330.9L646.7,326L647.9,323.5L650,316.3L650.5,314.6L650.8,313.4L654.6,298.5L656,289.9L661.9,253.8L662,254.2L666.8,276.2L667.9,275.4L668,275.3L671.3,270.9L672.4,275.1L674,282.2L677.9,299.6L680,296.2L684.6,288.1L686,290.5L691.3,300L692,295.9L696.9,267.5L698,266.2L700.6,263.1L704,269.1L705.8,272.4L710,275.8L712.4,277.7L716,287.8L716.9,290.3L722,273L722.9,270L728,289.3L733.6,308.5L734,307.9L735.6,305.2L738.3,298.5L740,303.5L745.2,319.7L746,317.6L752,301.9L754.1,296.3L758,304.2L758.8,305.7L764,295.4L764.3,294.8L768,298.5L769.3,298.3L770,297.6L770.8,296.9L773.6,269.6L774,266L776,263.5L776.4,262.9L777.3,261.7L782,240.2L787.1,216.8L787.5,218.4L788,221.4L793.1,251.6L794,249.3L799.6,234.6L800,236.3L803.3,250L804.2,248.1L806,243.9L807,241.6L808.8,240.5L809.4,240.3L811.6,250.8L812,252.9L812.6,256.1L815.7,279.4L816.3,279.2L818,277.3L818.1,277.2L820.9,276.6L821.8,283.5L823.7,299.1L824,301.5L825.5,313.4L829.3,317.7L830,319.2L832,323.5L833.9,327.5L834.8,327.3L836,327.1L836.7,327L838.5,329.5L841.3,333.5L842,334.2L844.1,336.4L845.6,330.5L847.4,331L848,328.9L851.1,317.7L853.9,316.7L854,316.7L854.5,316.9L856.3,315.7L857.1,294.4L857.6,281.2L860,282.3L862.3,284L866,283.2L867.8,282.8L872,283.9L873,284.1L876.5,297.1L876.7,296.9L878,292.6L879.9,286.3L883.6,278.7L884,275.1L887.3,245.5L889.7,219.9L890,218.8L890.1,218.4L892.5,212.2L892.9,214.7L895.7,232.1L896,232.6L897.9,235.1L899.4,184.4L902,179.1L902.2,178.5L905.3,159.9L908,173.2L909.6,180.9L911.4,180.8L912.4,180L914,168.8L915.7,156.9L917.9,162.1L920,183.3L920.7,190.5L921.6,187.5L922.6,183.2L924.6,165L924.8,167.6L926,184.9L926.3,189.4L927.6,213.7L928.1,213.1L930.9,207.2L932,205.5L934.6,201.5L937.4,205.8L938,211.9L938.3,214.9L939.8,230L941.2,238.9L943.3,242.4L944,243.4L944.3,244L947.3,265.9L950,257.8L950.4,256.6L956,250.4L956.5,249.8L960.6,258.7L962,258.7L963.7,258.6L966.7,247.9L968,247.5L969.8,247L972.9,235.4L974,241.6L975.9,252.4L980,285.3L982.7,301.8L986,302.5L986.1,302.5L990.2,308.6L992,309.3L995.3,310.6L998,306.1L999.4,303.8L1002.4,305.7L1004,308.8L1004.9,310.5L1005,310.5V426.3Z" fill="#e7dccb"/>
<path d="M228.8,426.3V415.4L230,414.2L236,408.7L241.7,403.5L242,403.4L244.2,402.9L248,403.7L250.8,404.3L254,401.2L255,400.2L260,397L265,391.4L266,391.1L267.5,390.5L272,385.9L273.3,384.6L278,387.9L280,389.3L283,382.9L283.3,382.4L284,382.9L286.7,385.1L287.5,385.5L290,380.6L293,374.7L293.3,374.2L295.8,376.2L296,376.7L299.2,385.7L302,380.8L302.2,380.7L305,392.9L308,394.7L309.2,395.4L312.5,389.4L314,390.1L315.8,391L318.3,389.7L320,386L322.5,380.5L325.8,377.2L326,377.1L328.3,375.9L331.7,367.2L332,367L334.2,365.1L337.8,351.9L338,352L344,362.1L344.2,362.3L347.5,359.5L350,362.1L353.3,365.5L356,388.3L356.7,394L360,395.2L362,397L363.3,398.1L365.8,397.8L368,400.9L369.2,402.6L373.3,411.6L374,410.5L376.3,406.4L379.7,409.6L380,409.4L386,404L386.7,403.3L391.7,398.9L392,398.8L395.8,398.4L398,394.9L398.7,393.9L402.5,400.4L404,401L405.8,401.7L409.2,400.3L410,399.3L411.7,397.3L415,401.7L416,402.2L418.3,403.4L422,403L423.3,402.9L428,403.2L430,403.4L434,397L434.2,396.7L436.7,396L440,403.4L445,404.2L446,404.1L451.7,403.4L452,403.5L456.7,404.6L458,404.4L460.8,403.9L464,403.9L465.8,403.9L470,397.6L473.3,395.1L476,395.1L476.7,395.1L479.2,393.8L482,396.1L482.5,396.5L485.8,393.2L488,393.1L489.2,393.1L491.7,392.6L494,394.1L495,394.8L498.3,387.7L500,387.6L501.7,387.6L506,385.2L507.5,384.3L510.8,379.4L512,381.1L514.2,384.4L518,382.2L520,381.1L524,382.1L526.7,382.7L530,379.8L533.3,376.9L536,379.1L538.3,381.1L542,377.5L545,374.5L548,373.9L549.2,373.6L553,370.9L554,371.3L556.7,372.5L559.2,371.3L560,371.5L562.5,372.1L565,371.1L566,372.4L568.3,375.5L569.2,375.5L572,375.1L573.3,374.9L576.7,374.1L578,373.8L578.3,373.8L583.3,373.5L584,373L588.3,369.6L590,370.4L591.7,371.2L595,372.3L596,370.8L600,365.2L602,361.9L603.3,359.7L605.8,355.5L606.7,354L607.5,353L608,353.4L610,355.2L613.3,349.7L614,348.6L614.5,347.7L619.2,340.3L620,339.5L620.1,339.4L623.3,339.4L625.6,338.8L626,338.6L629.2,337L630.1,336.7L632,337.4L632.8,337.6L633.4,337.4L636.2,326.9L636.8,325.3L638,326.6L643.3,332.4L643.4,332.5L644,331.5L646.7,326.6L647.9,324.1L650,317L650.5,315.3L650.8,314.1L654.6,299L656,290.5L661.9,254.8L662,255.1L666.8,277L667.9,276.2L668,276.1L671.3,271.9L672.4,275.9L674,283L677.9,300.3L680,296.9L684.6,288.9L686,291.3L691.3,300.7L692,296.7L696.9,268.6L698,267.3L700.6,264.3L704,270.2L705.8,273.4L710,276.8L712.4,278.7L716,288.7L716.9,291.3L722,274.3L722.9,271.3L728,290.3L733.6,309.4L734,308.8L735.6,306.3L738.3,299.9L740,304.9L745.2,320.9L746,319L752,304L754.1,298.7L758,306.6L758.8,308.1L764,298.4L764.3,297.9L768,301.7L769.3,301.7L770,300.9L770.8,300L773.6,274L774,270.7L776,267.9L776.4,267.3L777.3,266L782,245L787.1,222.1L787.5,223.5L788,226.4L793.1,255.8L794,253.5L799.6,239.5L800,241L803.3,254.1L804.2,252.5L806,248.6L807,246.4L808.8,245.3L809.4,245.1L811.6,255L812,257L812.6,260.2L815.7,282.7L816.3,282.7L818,280.8L818.1,280.7L820.9,280.1L821.8,286.4L823.7,301.4L824,303.7L825.5,315.2L829.3,319.6L830,321L832,325.2L833.9,329.1L834.8,329L836,328.9L836.7,328.8L838.5,331.3L841.3,335.2L842,335.9L844.1,338.2L845.6,332.6L847.4,333.2L848,331.1L851.1,320L853.9,319L854,319L854.5,319.1L856.3,317.1L857.1,296.6L857.6,284L860,285.1L862.3,286.7L866,285.8L867.8,285.4L872,286.4L873,286.6L876.5,299.2L876.7,299L878,294.7L879.9,288.5L883.6,280.9L884,277.3L887.3,248.3L889.7,222.8L890,221.6L890.1,221.3L892.5,215.4L892.9,217.7L895.7,234.8L896,235.1L897.9,236.7L899.4,187.5L902,182.2L902.2,181.6L905.3,163.5L908,176.5L909.6,184.2L911.4,184.2L912.4,183.3L914,172.4L915.7,160.8L917.9,166.2L920,186.9L920.7,193.8L921.6,191.1L922.6,186.7L924.6,168.8L924.8,171.3L926,188.3L926.3,192.7L927.6,216.5L928.1,216.1L930.9,210.4L932,208.8L934.6,204.9L937.4,209.3L938,215.1L938.3,218L939.8,232.6L941.2,241.3L943.3,245.1L944,246.2L944.3,246.8L947.3,268.2L950,260.3L950.4,259.1L956,253L956.5,252.5L960.6,261.2L962,261.2L963.7,261.2L966.7,250.6L968,250.2L969.8,249.7L972.9,238.3L974,244.4L975.9,254.9L980,287.4L982.7,303.7L986,304.4L986.1,304.4L990.2,310.4L992,311.1L995.3,312.4L998,308L999.4,305.8L1002.4,307.7L1004,310.6L1004.9,312.3L1005,312.3V426.3Z" fill="#a9c8e8"/>
<path d="M228.8,426.3V415.4L230,414.2L236,408.7L241.7,403.5L242,403.4L244.2,402.9L248,403.7L250.8,404.3L254,401.2L255,400.2L260,397L265,391.4L266,391.1L267.5,390.5L272,385.9L273.3,384.6L278,387.9L280,389.3L283,382.9L283.3,382.4L284,382.9L286.7,385.1L287.5,385.5L290,380.6L293,374.7L293.3,374.2L295.8,376.2L296,376.7L299.2,385.7L302,380.8L302.2,380.7L305,392.9L308,394.7L309.2,395.4L312.5,389.4L314,390.1L315.8,391L318.3,389.7L320,386L322.5,380.5L325.8,377.2L326,377.1L328.3,375.9L331.7,367.2L332,367L334.2,365.1L337.8,351.9L338,352L344,362.1L344.2,362.3L347.5,359.5L350,362.1L353.3,365.5L356,388.3L356.7,394L360,395.2L362,397L363.3,398.1L365.8,397.8L368,400.9L369.2,402.6L373.3,411.6L374,410.5L376.3,406.4L379.7,409.6L380,409.4L386,404L386.7,403.3L391.7,398.9L392,398.8L395.8,398.4L398,394.9L398.7,393.9L402.5,400.4L404,401L405.8,401.7L409.2,400.3L410,399.3L411.7,397.3L415,401.7L416,402.2L418.3,403.4L422,403L423.3,402.9L428,403.2L430,403.4L434,397L434.2,396.7L436.7,396L440,403.4L445,404.2L446,404.1L451.7,403.4L452,403.5L456.7,404.6L458,404.4L460.8,403.9L464,403.9L465.8,403.9L470,397.6L473.3,395.1L476,395.1L476.7,395.1L479.2,393.8L482,396.1L482.5,396.5L485.8,393.2L488,393.1L489.2,393.1L491.7,392.6L494,394.1L495,394.8L498.3,387.7L500,387.6L501.7,387.6L506,385.2L507.5,384.3L510.8,379.4L512,381.1L514.2,384.4L518,382.2L520,381.1L524,382.1L526.7,382.7L530,379.8L533.3,376.9L536,379.1L538.3,381.1L542,377.5L545,374.5L548,373.9L549.2,373.6L553,370.9L554,371.3L556.7,372.5L559.2,371.3L560,371.5L562.5,372.1L565,371.1L566,372.4L568.3,375.5L569.2,375.5L572,375.1L573.3,374.9L576.7,374.1L578,373.8L578.3,373.8L583.3,373.5L584,373L588.3,369.6L590,370.4L591.7,371.2L595,372.3L596,370.8L600,365.2L602,361.9L603.3,359.7L605.8,355.5L606.7,354L607.5,353L608,353.4L610,355.2L613.3,349.7L614,348.6L614.5,347.7L619.2,340.3L620,339.5L620.1,339.4L623.3,339.4L625.6,338.8L626,338.6L629.2,337L630.1,336.7L632,337.4L632.8,337.6L633.4,337.4L636.2,326.9L636.8,325.3L638,326.6L643.3,332.4L643.4,332.5L644,331.5L646.7,326.6L647.9,324.1L650,317L650.5,315.3L650.8,314.1L654.6,299L656,290.5L661.9,254.8L662,255.1L666.8,277L667.9,276.2L668,276.1L671.3,271.9L672.4,275.9L674,283L677.9,300.3L680,296.9L684.6,288.9L686,291.3L691.3,300.7L692,296.7L696.9,268.6L698,267.3L700.6,264.3L704,270.2L705.8,273.4L710,276.8L712.4,278.7L716,288.7L716.9,291.3L722,274.3L722.9,271.3L728,290.3L733.6,309.4L734,308.8L735.6,306.3L738.3,299.9L740,304.9L745.2,320.9L746,319L752,304L754.1,298.7L758,306.6L758.8,308.1L764,298.4L764.3,297.9L768,301.7L769.3,301.7L770,300.9L770.8,300L773.6,274L774,270.7L776,267.9L776.4,267.4L777.3,266L782,245.1L787.1,222.4L787.5,223.8L788,226.7L793.1,256.1L794,253.8L799.6,239.9L800,241.5L803.3,254.6L804.2,253L806,249.1L807,247L808.8,245.9L809.4,245.8L811.6,255.6L812,257.7L812.6,260.8L815.7,283.3L816.3,283.3L818,281.5L818.1,281.4L820.9,280.7L821.8,287L823.7,301.8L824,304.1L825.5,315.5L829.3,320L830,321.4L832,325.6L833.9,329.5L834.8,329.4L836,329.4L836.7,329.3L838.5,331.8L841.3,335.7L842,336.5L844.1,338.7L845.6,333.3L847.4,333.9L848,331.9L851.1,320.8L853.9,319.9L854,319.9L854.5,320L856.3,317.7L857.1,297.5L857.6,285.2L860,286.2L862.3,287.8L866,287L867.8,286.5L872,287.4L873,287.6L876.5,300.1L876.7,299.9L878,295.7L879.9,289.5L883.6,281.9L884,278.4L887.3,249.6L889.7,224.2L890,223L890.1,222.6L892.5,216.9L892.9,219.2L895.7,236.1L896,236.4L897.9,237.5L899.4,189L902,183.7L902.2,183.1L905.3,165.2L908,178.2L909.6,185.7L911.4,185.9L912.4,185L914,174.1L915.7,162.7L917.9,168.1L920,188.5L920.7,195.4L921.6,192.8L922.6,188.4L924.6,170.6L924.8,173L926,189.9L926.3,194.3L927.6,217.9L928.1,217.6L930.9,211.9L932,210.3L934.6,206.4L937.4,210.9L938,216.6L938.3,219.5L939.8,233.8L941.2,242.5L943.3,246.4L944,247.5L944.3,248.1L947.3,269.2L950,261.4L950.4,260.2L956,254.2L956.5,253.7L960.6,262.3L962,262.3L963.7,262.3L966.7,251.8L968,251.4L969.8,250.9L972.9,239.6L974,245.6L975.9,255.9L980,288.2L982.7,304.4L986,305.1L986.1,305.2L990.2,311.2L992,311.9L995.3,313.1L998,308.8L999.4,306.6L1002.4,308.5L1004,311.4L1004.9,313L1005,313V426.3Z" fill="#f2bf9d"/>
<path d="M228.8,426.3V415.4L230,414.2L236,408.7L241.7,403.5L242,403.4L244.2,402.9L248,403.7L250.8,404.3L254,401.2L255,400.2L260,397L265,391.4L266,391.1L267.5,390.5L272,385.9L273.3,384.6L278,387.9L280,389.3L283,382.9L283.3,382.4L284,382.9L286.7,385.1L287.5,385.5L290,380.6L293,374.7L293.3,374.2L295.8,376.2L296,376.7L299.2,385.7L302,380.8L302.2,380.7L305,392.9L308,394.7L309.2,395.4L312.5,389.4L314,390.1L315.8,391L318.3,389.7L320,386L322.5,380.5L325.8,377.2L326,377.1L328.3,375.9L331.7,367.2L332,367L334.2,365.1L337.8,351.9L338,352L344,362.1L344.2,362.3L347.5,359.5L350,362.1L353.3,365.5L356,388.3L356.7,394L360,395.2L362,397L363.3,398.1L365.8,397.8L368,400.9L369.2,402.6L373.3,411.6L374,410.5L376.3,406.4L379.7,409.6L380,409.4L386,404L386.7,403.3L391.7,398.9L392,398.8L395.8,398.4L398,394.9L398.7,393.9L402.5,400.4L404,401L405.8,401.7L409.2,400.3L410,399.3L411.7,397.3L415,401.7L416,402.2L418.3,403.4L422,403L423.3,402.9L428,403.2L430,403.4L434,397L434.2,396.7L436.7,396L440,403.4L445,404.2L446,404.1L451.7,403.4L452,403.5L456.7,404.6L458,404.4L460.8,403.9L464,403.9L465.8,403.9L470,397.6L473.3,395.1L476,395.1L476.7,395.1L479.2,393.8L482,396.1L482.5,396.5L485.8,393.2L488,393.1L489.2,393.1L491.7,392.6L494,394.1L495,394.8L498.3,387.7L500,387.6L501.7,387.6L506,385.2L507.5,384.3L510.8,379.4L512,381.1L514.2,384.4L518,382.2L520,381.1L524,382.1L526.7,382.7L530,379.8L533.3,376.9L536,379.1L538.3,381.1L542,377.5L545,374.5L548,373.9L549.2,373.6L553,370.9L554,371.3L556.7,372.5L559.2,371.3L560,371.5L562.5,372.1L565,371.1L566,372.4L568.3,375.5L569.2,375.5L572,375.1L573.3,374.9L576.7,374.1L578,373.8L578.3,373.8L583.3,373.5L584,373L588.3,369.6L590,370.4L591.7,371.2L595,372.3L596,370.8L600,365.2L602,361.9L603.3,359.7L605.8,355.5L606.7,354L607.5,353L608,353.4L610,355.2L613.3,349.7L614,348.6L614.5,347.7L619.2,340.3L620,339.5L620.1,339.4L623.3,339.4L625.6,338.8L626,338.6L629.2,337L630.1,336.7L632,337.4L632.8,337.6L633.4,337.4L636.2,326.9L636.8,325.3L638,326.6L643.3,332.4L643.4,332.5L644,331.5L646.7,326.6L647.9,324.1L650,317L650.5,315.3L650.8,314.1L654.6,299L656,290.5L661.9,254.8L662,255.1L666.8,277L667.9,276.2L668,276.1L671.3,271.9L672.4,275.9L674,283L677.9,300.3L680,296.9L684.6,288.9L686,291.3L691.3,300.7L692,296.7L696.9,268.6L698,267.3L700.6,264.3L704,270.2L705.8,273.4L710,276.8L712.4,278.7L716,288.7L716.9,291.3L722,274.3L722.9,271.3L728,290.3L733.6,309.4L734,308.8L735.6,306.3L738.3,299.9L740,304.9L745.2,320.9L746,319L752,304L754.1,298.7L758,306.6L758.8,308.1L764,298.4L764.3,297.9L768,301.7L769.3,301.7L770,300.9L770.8,300L773.6,274.1L774,270.7L776,268L776.4,267.4L777.3,266.1L782,245.3L787.1,222.7L787.5,224L788,226.9L793.1,256.4L794,254.2L799.6,240.4L800,242L803.3,255L804.2,253.5L806,249.7L807,247.5L808.8,246.6L809.4,246.4L811.6,256.2L812,258.3L812.6,261.4L815.7,283.8L816.3,283.8L818,282.1L818.1,282L820.9,281.4L821.8,287.5L823.7,302.3L824,304.6L825.5,315.9L829.3,320.4L830,321.9L832,326L833.9,329.9L834.8,329.9L836,329.8L836.7,329.8L838.5,332.3L841.3,336.3L842,337L844.1,339.3L845.6,334L847.4,334.6L848,332.6L851.1,321.7L853.9,320.8L854,320.8L854.5,320.9L856.3,318.3L857.1,298.4L857.6,286.4L860,287.4L862.3,289L866,288.2L867.8,287.8L872,288.7L873,288.9L876.5,301.3L876.7,301.1L878,296.9L879.9,290.7L883.6,283.2L884,279.7L887.3,251.3L889.7,226.1L890,224.8L890.1,224.5L892.5,219.1L892.9,221.3L895.7,238L896,238.2L897.9,238.7L899.4,191.4L902,186L902.2,185.4L905.3,167.9L908,180.6L909.6,188.1L911.4,188.4L912.4,187.4L914,176.8L915.7,165.5L917.9,171.1L920,191L920.7,197.7L921.6,195.4L922.6,190.9L924.6,173.3L924.8,175.6L926,192.3L926.3,196.6L927.6,219.8L928.1,219.7L930.9,214.2L932,212.6L934.6,208.8L937.4,213.3L938,218.9L938.3,221.7L939.8,235.6L941.2,244.1L943.3,248.2L944,249.4L944.3,250L947.3,270.8L950,263.1L950.4,261.9L956,255.9L956.5,255.4L960.6,263.9L962,264L963.7,263.9L966.7,253.5L968,253.1L969.8,252.7L972.9,241.5L974,247.3L975.9,257.5L980,289.5L982.7,305.6L986,306.3L986.1,306.3L990.2,312.3L992,313L995.3,314.3L998,310L999.4,307.8L1002.4,309.6L1004,312.5L1004.9,314.1L1005,314.1V426.3Z" fill="#c9a8de"/>
<path d="M228.8,426.3V415.4L230,414.2L236,408.7L241.7,403.5L242,403.4L244.2,402.9L248,403.7L250.8,404.3L254,401.2L255,400.2L260,397L265,391.4L266,391.1L267.5,390.5L272,385.9L273.3,384.6L278,387.9L280,389.3L283,382.9L283.3,382.4L284,382.9L286.7,385.1L287.5,385.5L290,380.6L293,374.7L293.3,374.2L295.8,376.2L296,376.7L299.2,385.7L302,380.8L302.2,380.7L305,392.9L308,394.7L309.2,395.4L312.5,389.4L314,390.1L315.8,391L318.3,389.7L320,386L322.5,380.5L325.8,377.2L326,377.1L328.3,375.9L331.7,367.2L332,367L334.2,365.1L337.8,351.9L338,352L344,362.1L344.2,362.3L347.5,359.5L350,362.1L353.3,365.5L356,388.3L356.7,394.1L360,395.4L362,397.2L363.3,398.4L365.8,398.1L368,401.2L369.2,403L373.3,412.2L374,411.1L376.3,407L379.7,410.2L380,410L386,404.6L386.7,403.9L391.7,399.5L392,399.4L395.8,399L398,395.5L398.7,394.5L402.5,401L404,401.6L405.8,402.3L409.2,400.9L410,399.9L411.7,397.9L415,402.3L416,402.8L418.3,404L422,403.6L423.3,403.5L428,403.8L430,404L434,397.6L434.2,397.3L436.7,396.6L440,404L445,404.8L446,404.7L451.7,404L452,404.1L456.7,405.2L458,405L460.8,404.5L464,404.5L465.8,404.5L470,398.2L473.3,395.7L476,395.7L476.7,395.7L479.2,394.4L482,396.7L482.5,397.1L485.8,393.8L488,393.7L489.2,393.7L491.7,393.2L494,394.7L495,395.4L498.3,388.3L500,388.2L501.7,388.2L506,385.8L507.5,384.9L510.8,380L512,381.8L514.2,385.2L518,383.2L520,382.1L524,383L526.7,383.6L530,380.7L533.3,377.8L536,380L538.3,381.9L542,378.4L545,375.5L548,374.8L549.2,374.5L553,372.1L554,372.5L556.7,373.5L559.2,372.6L560,372.7L562.5,373.2L565,372.2L566,373.5L568.3,376.4L569.2,376.5L572,376L573.3,375.8L576.7,374.9L578,374.6L578.3,374.5L583.3,374.1L584,373.6L588.3,370.1L590,370.9L591.7,371.7L595,372.7L596,371.3L600,365.6L602,362.3L603.3,360.2L605.8,356.1L606.7,354.6L607.5,353.7L608,354.2L610,355.9L613.3,350.5L614,349.3L614.5,348.5L619.2,341.2L620,340.4L620.1,340.4L623.3,340.6L625.6,340L626,339.8L629.2,338.2L630.1,338L632,338.6L632.8,338.9L633.4,338.6L636.2,328.3L636.8,326.8L638,328.1L643.3,333.9L643.4,334L644,333L646.7,328.4L647.9,325.9L650,319L650.5,317.3L650.8,316.1L654.6,300.6L656,292.5L661.9,258.1L662,258.5L666.8,279.6L667.9,279.1L668,279L671.3,274.9L672.4,278.5L674,285.5L677.9,302.4L680,299.1L684.6,291.3L686,293.7L691.3,303L692,299L696.9,271.6L698,270.4L700.6,267.6L704,273.2L705.8,276.2L710,279.5L712.4,281.4L716,291.2L716.9,293.7L722,277.3L722.9,274.4L728,292.8L733.6,311.5L734,311L735.6,308.8L738.3,302.6L740,307.4L745.2,322.8L746,321L752,306.3L754.1,301.2L758,308.9L758.8,310.3L764,300.8L764.3,300.2L768,304L769.3,303.9L770,303L770.8,301.9L773.6,276.8L774,273.6L776,270.7L776.4,270.2L777.3,268.7L782,248.3L787.1,226L787.5,227.2L788,230.1L793.1,259L794,256.8L799.6,243.4L800,244.9L803.3,257.6L804.2,256.2L806,252.5L807,250.5L808.8,249.5L809.4,249.4L811.6,258.8L812,260.8L812.6,263.9L815.7,285.9L816.3,286L818,284.3L818.1,284.2L820.9,283.5L821.8,289.3L823.7,303.7L824,305.9L825.5,317L829.3,321.5L830,323L832,327.1L833.9,330.8L834.8,330.9L836,330.9L836.7,330.9L838.5,333.4L841.3,337.3L842,338.1L844.1,340.4L845.6,335.3L847.4,335.9L848,333.9L851.1,323.1L853.9,322.2L854,322.2L854.5,322.3L856.3,319.1L857.1,299.7L857.6,288.1L860,289.2L862.3,290.7L866,289.9L867.8,289.5L872,290.3L873,290.5L876.5,302.7L876.7,302.5L878,298.3L879.9,292.2L883.6,284.6L884,281.3L887.3,253.3L889.7,228.2L890,226.9L890.1,226.5L892.5,221.3L892.9,223.5L895.7,240L896,240.1L897.9,239.9L899.4,193.7L902,188.3L902.2,187.7L905.3,170.5L908,183.1L909.6,190.4L911.4,190.9L912.4,189.8L914,179.4L915.7,168.3L917.9,174L920,193.6L920.7,200.1L921.6,197.9L922.6,193.5L924.6,176L924.8,178.2L926,194.7L926.3,199L927.6,221.8L928.1,221.9L930.9,216.4L932,214.8L934.6,211.1L937.4,215.6L938,221.1L938.3,223.8L939.8,237.4L941.2,245.8L943.3,250.1L944,251.3L944.3,251.9L947.3,272.3L950,264.7L950.4,263.5L956,257.7L956.5,257.2L960.6,265.6L962,265.6L963.7,265.6L966.7,255.3L968,254.9L969.8,254.5L972.9,243.3L974,249.1L975.9,259.1L980,290.7L982.7,306.8L986,307.5L986.1,307.5L990.2,313.5L992,314.2L995.3,315.4L998,311.2L999.4,309L1002.4,310.8L1004,313.6L1004.9,315.2L1005,315.2V426.3Z" fill="#6cc5c0"/>
<path d="M228.8,426.3V415.7L230,414.4L236,409.6L241.7,405L242,405L244.2,405.1L248,405.6L250.8,406L254,403L255,402.1L260,399.7L265,396.4L266,395.9L267.5,395.3L272,392L273.3,391L278,394L280,395.3L283,388L283.3,388.1L284,388.8L286.7,391.2L287.5,390.2L290,385.7L293,380.1L293.3,380.1L295.8,382.2L296,382.6L299.2,390.1L302,384.2L302.2,384L305,395.2L308,397.1L309.2,397.8L312.5,392.6L314,393.3L315.8,394.2L318.3,392.3L320,388.6L322.5,383.1L325.8,380L326,379.9L328.3,378.3L331.7,370.5L332,370.3L334.2,368.2L337.8,357L338,357.1L344,365.9L344.2,366.1L347.5,363.2L350,365.4L353.3,368.3L356,390.5L356.7,396L360,396.9L362,398.5L363.3,399.6L365.8,399L368,402.1L369.2,403.8L373.3,413L374,411.9L376.3,407.8L379.7,411L380,410.8L386,405.3L386.7,404.7L391.7,400.2L392,400.2L395.8,399.7L398,396.3L398.7,395.3L402.5,401.7L404,402.3L405.8,403L409.2,401.7L410,400.7L411.7,398.6L415,403L416,403.5L418.3,404.7L422,404.3L423.3,404.2L428,404.5L430,404.7L434,398.3L434.2,398L436.7,397.3L440,404.7L445,405.5L446,405.4L451.7,404.7L452,404.8L456.7,405.8L458,405.6L460.8,405.2L464,405.2L465.8,405.2L470,398.8L473.3,396.4L476,396.3L476.7,396.3L479.2,395L482,397.3L482.5,397.7L485.8,394.4L488,394.3L489.2,394.3L491.7,393.8L494,395.3L495,396L498.3,388.9L500,388.8L501.7,388.8L506,386.3L507.5,385.5L510.8,380.5L512,382.4L514.2,385.9L518,384L520,383L524,383.9L526.7,384.5L530,381.5L533.3,378.6L536,380.8L538.3,382.7L542,379.2L545,376.3L548,375.6L549.2,375.3L553,373L554,373.4L556.7,374.4L559.2,373.7L560,373.8L562.5,374.1L565,373.2L566,374.4L568.3,377.2L569.2,377.4L572,376.9L573.3,376.7L576.7,375.8L578,375.5L578.3,375.4L583.3,374.9L584,374.4L588.3,370.9L590,371.7L591.7,372.5L595,373.6L596,372.2L600,366.6L602,363.5L603.3,361.4L605.8,357.4L606.7,356L607.5,355.3L608,355.7L610,357.4L613.3,352.1L614,350.9L614.5,350.1L619.2,342.8L620,342.3L620.1,342.2L623.3,342.7L625.6,342L626,341.8L629.2,340.3L630.1,340.1L632,340.7L632.8,341L633.4,340.5L636.2,330.4L636.8,329.2L638,330.5L643.3,336L643.4,336.1L644,335.1L646.7,330.7L647.9,328.2L650,321.5L650.5,319.9L650.8,318.7L654.6,302.7L656,294.9L661.9,262L662,262.3L666.8,282.5L667.9,282.4L668,282.3L671.3,278.3L672.4,281.5L674,288.3L677.9,304.9L680,301.6L684.6,294L686,296.4L691.3,305.5L692,301.7L696.9,275.1L698,274L700.6,271.3L704,276.5L705.8,279.3L710,282.6L712.4,284.5L716,294L716.9,296.4L722,280.8L722.9,278L728,295.6L733.6,313.9L734,313.5L735.6,311.7L738.3,305.5L740,309.9L745.2,324.6L746,322.7L752,308L754.1,302.9L758,310L758.8,311.4L764,301.5L764.3,301L768,304.3L769.3,304.2L770,303.2L770.8,302L773.6,276.9L774,273.7L776,270.9L776.4,270.3L777.3,268.9L782,248.6L787.1,226.5L787.5,227.7L788,230.6L793.1,259.6L794,257.4L799.6,244.3L800,245.8L803.3,258.5L804.2,257.2L806,253.6L807,251.7L808.8,250.8L809.4,250.7L811.6,260L812,262L812.6,265.2L815.7,286.9L816.3,287.2L818,285.5L818.1,285.4L820.9,284.8L821.8,290.4L823.7,304.6L824,306.8L825.5,317.7L829.3,322.4L830,323.8L832,327.9L833.9,331.7L834.8,331.7L836,331.8L836.7,331.9L838.5,334.4L841.3,338.4L842,339.2L844.1,341.6L845.6,336.7L847.4,337.4L848,335.4L851.1,324.8L853.9,324L854,324L854.5,324.1L856.3,320.2L857.1,301.4L857.6,290.4L860,291.3L862.3,292.7L866,291.8L867.8,291.4L872,292L873,292.2L876.5,304.1L876.7,304L878,299.8L879.9,293.6L883.6,286L884,282.6L887.3,254.9L889.7,229.9L890,228.5L890.1,228.1L892.5,223.1L892.9,225.2L895.7,241.4L896,241.4L897.9,240.8L899.4,195.3L902,189.8L902.2,189.3L905.3,172.3L908,184.7L909.6,192L911.4,192.6L912.4,191.5L914,181.1L915.7,170.2L917.9,175.9L920,195.2L920.7,201.7L921.6,199.7L922.6,195.1L924.6,177.8L924.8,179.9L926,196.3L926.3,200.6L927.6,223.2L928.1,223.3L930.9,218L932,216.4L934.6,212.6L937.4,217.2L938,222.6L938.3,225.3L939.8,238.6L941.2,246.9L943.3,251.3L944,252.6L944.3,253.2L947.3,273.3L950,265.8L950.4,264.7L956,258.9L956.5,258.4L960.6,266.7L962,266.7L963.7,266.7L966.7,256.4L968,256.1L969.8,255.7L972.9,244.6L974,250.3L975.9,260.1L980,291.6L982.7,307.6L986,308.3L986.1,308.3L990.2,314.3L992,314.9L995.3,316.1L998,312L999.4,309.8L1002.4,311.6L1004,314.3L1004.9,315.9L1005,315.9V426.3Z" fill="#93d38c"/>
<path d="M228.8,426.3V415.7L230,414.4L236,409.6L241.7,405L242,405L244.2,405.1L248,405.6L250.8,406L254,403L255,402.1L260,399.7L265,396.4L266,395.9L267.5,395.3L272,392L273.3,391L278,394L280,395.3L283,388L283.3,388.1L284,388.8L286.7,391.2L287.5,390.2L290,385.7L293,380.1L293.3,380.1L295.8,382.2L296,382.6L299.2,390.1L302,384.2L302.2,384L305,395.2L308,397.1L309.2,397.8L312.5,392.6L314,393.3L315.8,394.2L318.3,392.3L320,388.6L322.5,383.1L325.8,380L326,379.9L328.3,378.3L331.7,370.5L332,370.3L334.2,368.2L337.8,357L338,357.1L344,365.9L344.2,366.1L347.5,363.2L350,365.4L353.3,368.3L356,390.5L356.7,396L360,397.1L362,398.7L363.3,399.8L365.8,399.3L368,402.4L369.2,404.2L373.3,413.6L374,412.5L376.3,408.4L379.7,411.6L380,411.4L386,405.9L386.7,405.3L391.7,400.8L392,400.8L395.8,400.3L398,396.9L398.7,395.9L402.5,402.3L404,402.9L405.8,403.6L409.2,402.3L410,401.3L411.7,399.2L415,403.6L416,404.1L418.3,405.3L422,404.9L423.3,404.8L428,405.1L430,405.3L434,398.9L434.2,398.6L436.7,397.9L440,405.3L445,406.1L446,406L451.7,405.3L452,405.4L456.7,406.4L458,406.2L460.8,405.8L464,405.8L465.8,405.8L470,399.4L473.3,397L476,396.9L476.7,396.9L479.2,395.6L482,397.9L482.5,398.3L485.8,395L488,394.9L489.2,394.9L491.7,394.4L494,395.9L495,396.6L498.3,389.5L500,389.4L501.7,389.4L506,386.9L507.5,386.1L510.8,381.1L512,383.1L514.2,386.8L518,385L520,384L524,384.9L526.7,385.4L530,382.4L533.3,379.5L536,381.7L538.3,383.6L542,380.1L545,377.3L548,376.6L549.2,376.2L553,374.2L554,374.5L556.7,375.4L559.2,375L560,375L562.5,375.1L565,374.3L566,375.4L568.3,378L569.2,378.3L572,377.7L573.3,377.4L576.7,376.4L578,376.1L578.3,376L583.3,375.3L584,374.8L588.3,371.3L590,372L591.7,372.7L595,373.7L596,372.3L600,366.6L602,363.5L603.3,361.4L605.8,357.5L606.7,356L607.5,355.3L608,355.8L610,357.4L613.3,352.2L614,351L614.5,350.2L619.2,343L620,342.4L620.1,342.4L623.3,343L625.6,342.3L626,342.1L629.2,340.6L630.1,340.4L632,341.1L632.8,341.3L633.4,340.8L636.2,330.8L636.8,329.7L638,330.9L643.3,336.5L643.4,336.6L644,335.7L646.7,331.3L647.9,328.8L650,322.2L650.5,320.7L650.8,319.4L654.6,303.3L656,295.7L661.9,263.4L662,263.7L666.8,283.6L667.9,283.6L668,283.5L671.3,279.6L672.4,282.6L674,289.4L677.9,305.8L680,302.6L684.6,295L686,297.4L691.3,306.4L692,302.7L696.9,276.5L698,275.3L700.6,272.7L704,277.8L705.8,280.5L710,283.8L712.4,285.6L716,295L716.9,297.4L722,282.1L722.9,279.4L728,296.7L733.6,314.8L734,314.4L735.6,312.7L738.3,306.6L740,311L745.2,325.4L746,323.5L752,309L754.1,303.9L758,311L758.8,312.3L764,302.5L764.3,301.9L768,305.2L769.3,305.1L770,304.1L770.8,302.8L773.6,278L774,274.9L776,271.9L776.4,271.3L777.3,269.9L782,249.7L787.1,227.7L787.5,228.9L788,231.7L793.1,260.4L794,258.3L799.6,245.2L800,246.7L803.3,259.2L804.2,258L806,254.4L807,252.5L808.8,251.6L809.4,251.5L811.6,260.7L812,262.7L812.6,265.8L815.7,287.4L816.3,287.7L818,286L818.1,285.9L820.9,285.2L821.8,290.8L823.7,304.9L824,307.1L825.5,317.9L829.3,322.5L830,324L832,328.1L833.9,331.8L834.8,331.9L836,332L836.7,332.1L838.5,334.5L841.3,338.5L842,339.3L844.1,341.6L845.6,336.8L847.4,337.5L848,335.5L851.1,324.9L853.9,324L854,324.1L854.5,324.1L856.3,320.2L857.1,301.4L857.6,290.4L860,291.3L862.3,292.7L866,291.8L867.8,291.4L872,292L873,292.2L876.5,304.1L876.7,304L878,299.8L879.9,293.6L883.6,286L884,282.6L887.3,254.9L889.7,229.9L890,228.5L890.1,228.1L892.5,223.1L892.9,225.2L895.7,241.4L896,241.4L897.9,240.8L899.4,195.3L902,189.8L902.2,189.3L905.3,172.3L908,184.7L909.6,192L911.4,192.6L912.4,191.5L914,181.1L915.7,170.2L917.9,175.9L920,195.2L920.7,201.7L921.6,199.7L922.6,195.1L924.6,177.8L924.8,179.9L926,196.3L926.3,200.6L927.6,223.2L928.1,223.3L930.9,218L932,216.4L934.6,212.6L937.4,217.2L938,222.6L938.3,225.3L939.8,238.6L941.2,246.9L943.3,251.3L944,252.6L944.3,253.2L947.3,273.3L950,265.8L950.4,264.7L956,258.9L956.5,258.4L960.6,266.7L962,266.7L963.7,266.7L966.7,256.4L968,256.1L969.8,255.7L972.9,244.6L974,250.3L975.9,260.1L980,291.6L982.7,307.6L986,308.3L986.1,308.3L990.2,314.3L992,314.9L995.3,316.1L998,312L999.4,309.8L1002.4,311.6L1004,314.3L1004.9,315.9L1005,315.9V426.3Z" fill="#7fd1d8"/>
<path d="M228.8,426.3V415.7L230,414.4L236,409.6L241.7,405L242,405L244.2,405.1L248,405.6L250.8,406L254,403L255,402.1L260,399.7L265,396.4L266,395.9L267.5,395.3L272,392L273.3,391L278,394L280,395.3L283,388L283.3,388.1L284,388.8L286.7,391.2L287.5,390.2L290,385.7L293,380.1L293.3,380.1L295.8,382.2L296,382.6L299.2,390.1L302,384.2L302.2,384L305,395.2L308,397.1L309.2,397.8L312.5,392.6L314,393.3L315.8,394.2L318.3,392.3L320,388.6L322.5,383.1L325.8,380L326,379.9L328.3,378.3L331.7,370.5L332,370.3L334.2,368.2L337.8,357L338,357.1L344,365.9L344.2,366.1L347.5,363.2L350,365.4L353.3,368.3L356,390.5L356.7,396L360,397.1L362,398.7L363.3,399.8L365.8,399.3L368,402.4L369.2,404.2L373.3,413.6L374,412.5L376.3,408.4L379.7,411.6L380,411.4L386,405.9L386.7,405.3L391.7,400.8L392,400.8L395.8,400.3L398,396.9L398.7,395.9L402.5,402.3L404,402.9L405.8,403.6L409.2,402.3L410,401.3L411.7,399.2L415,403.6L416,404.1L418.3,405.3L422,404.9L423.3,404.8L428,405.1L430,405.3L434,398.9L434.2,398.6L436.7,397.9L440,405.3L445,406.1L446,406L451.7,405.3L452,405.4L456.7,406.4L458,406.2L460.8,405.8L464,405.8L465.8,405.8L470,399.4L473.3,397L476,396.9L476.7,396.9L479.2,395.6L482,397.9L482.5,398.3L485.8,395L488,394.9L489.2,394.9L491.7,394.4L494,395.9L495,396.6L498.3,389.5L500,389.4L501.7,389.4L506,386.9L507.5,386.1L510.8,381.1L512,383.1L514.2,386.8L518,385L520,384L524,384.9L526.7,385.4L530,382.4L533.3,379.5L536,381.7L538.3,383.6L542,380.1L545,377.3L548,376.6L549.2,376.2L553,374.2L554,374.5L556.7,375.4L559.2,375L560,375L562.5,375.2L565,374.3L566,375.5L568.3,378.1L569.2,378.4L572,377.8L573.3,377.6L576.7,376.7L578,376.4L578.3,376.3L583.3,375.6L584,375.1L588.3,371.7L590,372.4L591.7,373.1L595,374.2L596,372.8L600,367.2L602,364.2L603.3,362.2L605.8,358.4L606.7,357L607.5,356.4L608,356.8L610,358.4L613.3,353.3L614,352.1L614.5,351.3L619.2,344.2L620,343.8L620.1,343.7L623.3,344.5L625.6,343.8L626,343.6L629.2,342.1L630.1,342L632,342.6L632.8,342.9L633.4,342.3L636.2,332.5L636.8,331.5L638,332.8L643.3,338.2L643.4,338.2L644,337.4L646.7,333.2L647.9,330.7L650,324.3L650.5,322.8L650.8,321.5L654.6,305L656,297.7L661.9,266.8L662,267.1L666.8,286.1L667.9,286.5L668,286.4L671.3,282.7L672.4,285.3L674,291.9L677.9,307.9L680,304.8L684.6,297.4L686,299.7L691.3,308.7L692,305L696.9,279.5L698,278.5L700.6,275.9L704,280.7L705.8,283.3L710,286.5L712.4,288.3L716,297.5L716.9,299.8L722,285.1L722.9,282.5L728,299.1L733.6,316.9L734,316.6L735.6,315.3L738.3,309.4L740,313.7L745.2,327.5L746,325.7L752,312L754.1,307.1L758,314L758.8,315.2L764,305.9L764.3,305.4L768,308.6L769.3,308.7L770,307.4L770.8,305.9L773.6,282.4L774,279.5L776,276.4L776.4,275.7L777.3,274.1L782,254.6L787.1,233.2L787.5,234.1L788,236.9L793.1,264.7L794,262.7L799.6,250.3L800,251.7L803.3,263.6L804.2,262.6L806,259.4L807,257.5L808.8,256.6L809.4,256.6L811.6,265.2L812,267.2L812.6,270.2L815.7,291L816.3,291.5L818,289.9L818.1,289.8L820.9,289L821.8,294L823.7,307.5L824,309.5L825.5,319.9L829.3,324.6L830,326L832,330L833.9,333.6L834.8,333.7L836,334L836.7,334.1L838.5,336.5L841.3,340.5L842,341.3L844.1,343.7L845.6,339.2L847.4,340L848,338.1L851.1,327.6L853.9,326.8L854,326.8L854.5,326.9L856.3,322L857.1,304L857.6,293.8L860,294.6L862.3,295.9L866,294.9L867.8,294.4L872,294.9L873,295L876.5,306.5L876.7,306.3L878,302.2L879.9,296.1L883.6,288.3L884,285L887.3,257.9L889.7,233L890,231.5L890.1,231.1L892.5,226.4L892.9,228.4L895.7,244.2L896,244L897.9,242.4L899.4,198.4L902,192.9L902.2,192.3L905.3,175.8L908,187.9L909.6,195.1L911.4,195.8L912.4,194.6L914,184.5L915.7,173.8L917.9,179.7L920,198.4L920.7,204.7L921.6,202.9L922.6,198.3L924.6,181.2L924.8,183.2L926,199.4L926.3,203.5L927.6,225.6L928.1,226L930.9,220.7L932,219.2L934.6,215.5L937.4,220.1L938,225.3L938.3,227.9L939.8,240.7L941.2,248.9L943.3,253.6L944,254.8L944.3,255.5L947.3,275.1L950,267.8L950.4,266.6L956,260.9L956.5,260.4L960.6,268.5L962,268.6L963.7,268.5L966.7,258.4L968,258L969.8,257.7L972.9,246.7L974,252.2L975.9,261.8L980,292.9L982.7,308.8L986,309.5L986.1,309.6L990.2,315.5L992,316.1L995.3,317.3L998,313.2L999.4,311L1002.4,312.8L1004,315.5L1004.9,317L1005,317V426.3Z" fill="#ee5d6c"/>
<path d="M228.8,426.3V415.7L230,414.4L236,409.6L241.7,405L242,405L244.2,405.1L248,405.6L250.8,406L254,403L255,402.1L260,399.7L265,396.4L266,395.9L267.5,395.3L272,392L273.3,391L278,394L280,395.3L283,388L283.3,388.1L284,388.8L286.7,391.2L287.5,390.2L290,385.7L293,380.1L293.3,380.1L295.8,382.2L296,382.6L299.2,390.1L302,384.2L302.2,384L305,395.2L308,397.1L309.2,397.8L312.5,392.6L314,393.3L315.8,394.2L318.3,392.3L320,388.6L322.5,383.1L325.8,380L326,379.9L328.3,378.3L331.7,370.5L332,370.3L334.2,368.2L337.8,357L338,357.1L344,365.9L344.2,366.1L347.5,363.2L350,365.4L353.3,368.3L356,390.5L356.7,396L360,397.1L362,398.7L363.3,399.8L365.8,399.3L368,402.4L369.2,404.2L373.3,413.6L374,412.5L376.3,408.4L379.7,411.6L380,411.4L386,405.9L386.7,405.3L391.7,400.8L392,400.8L395.8,400.3L398,396.9L398.7,395.9L402.5,402.3L404,402.9L405.8,403.6L409.2,402.3L410,401.3L411.7,399.2L415,403.6L416,404.1L418.3,405.3L422,404.9L423.3,404.8L428,405.1L430,405.3L434,398.9L434.2,398.6L436.7,397.9L440,405.3L445,406.1L446,406L451.7,405.3L452,405.4L456.7,406.4L458,406.2L460.8,405.8L464,405.8L465.8,405.8L470,399.4L473.3,397L476,396.9L476.7,396.9L479.2,395.6L482,397.9L482.5,398.3L485.8,395L488,394.9L489.2,394.9L491.7,394.4L494,395.9L495,396.6L498.3,389.5L500,389.4L501.7,389.4L506,386.9L507.5,386.1L510.8,381.1L512,383.1L514.2,386.8L518,385L520,384L524,384.9L526.7,385.4L530,382.4L533.3,379.5L536,381.7L538.3,383.6L542,380.1L545,377.3L548,376.6L549.2,376.2L553,374.2L554,374.5L556.7,375.4L559.2,375L560,375L562.5,375.2L565,374.3L566,375.5L568.3,378.1L569.2,378.4L572,377.8L573.3,377.6L576.7,376.7L578,376.4L578.3,376.3L583.3,375.6L584,375.1L588.3,371.7L590,372.4L591.7,373.1L595,374.2L596,372.8L600,367.2L602,364.2L603.3,362.2L605.8,358.4L606.7,357L607.5,356.4L608,356.8L610,358.4L613.3,353.3L614,352.1L614.5,351.3L619.2,344.2L620,343.8L620.1,343.7L623.3,344.5L625.6,343.8L626,343.6L629.2,342.1L630.1,342L632,342.6L632.8,342.9L633.4,342.3L636.2,332.5L636.8,331.5L638,332.8L643.3,338.2L643.4,338.2L644,337.4L646.7,333.2L647.9,330.7L650,324.3L650.5,322.8L650.8,321.5L654.6,305L656,297.7L661.9,266.8L662,267.1L666.8,286.1L667.9,286.5L668,286.4L671.3,282.7L672.4,285.3L674,291.9L677.9,307.9L680,304.8L684.6,297.4L686,299.7L691.3,308.7L692,305L696.9,279.5L698,278.5L700.6,275.9L704,280.7L705.8,283.3L710,286.5L712.4,288.3L716,297.5L716.9,299.8L722,285.1L722.9,282.5L728,299.1L733.6,316.9L734,316.6L735.6,315.3L738.3,309.4L740,313.7L745.2,327.5L746,325.7L752,312L754.1,307.1L758,314L758.8,315.2L764,305.9L764.3,305.4L768,308.6L769.3,308.7L770,307.4L770.8,305.9L773.6,282.5L774,279.6L776,276.5L776.4,275.9L777.3,274.3L782,254.9L787.1,233.8L787.5,234.7L788,237.4L793.1,265.3L794,263.3L799.6,251.2L800,252.6L803.3,264.5L804.2,263.6L806,260.5L807,258.7L808.8,257.9L809.4,257.9L811.6,266.4L812,268.4L812.6,271.4L815.7,292.1L816.3,292.7L818,291.1L818.1,291L820.9,290.3L821.8,295.1L823.7,308.4L824,310.4L825.5,320.6L829.3,325.4L830,326.8L832,330.8L833.9,334.4L834.8,334.6L836,334.9L836.7,335.1L838.5,337.6L841.3,341.6L842,342.4L844.1,344.9L845.6,340.6L847.4,341.5L848,339.6L851.1,329.3L853.9,328.6L854,328.6L854.5,328.7L856.3,323.1L857.1,305.8L857.6,296.2L860,297.1L862.3,298.4L866,297.5L867.8,297.1L872,297.6L873,297.7L876.5,309L876.7,308.9L878,304.9L879.9,298.9L883.6,291.3L884,288.1L887.3,261.9L889.7,237.4L890,235.8L890.1,235.3L892.5,231.3L892.9,233.2L895.7,248.6L896,248.2L897.9,245.2L899.4,203.8L902,198.2L902.2,197.7L905.3,181.9L908,193.6L909.6,200.5L911.4,201.6L912.4,200.2L914,190.5L915.7,180.3L917.9,186.3L920,204.1L920.7,210.1L921.6,208.7L922.6,204L924.6,187.3L924.8,189L926,204.8L926.3,208.8L927.6,230.1L928.1,230.8L930.9,225.8L932,224.3L934.6,220.7L937.4,225.4L938,230.3L938.3,232.7L939.8,244.7L941.2,252.6L943.3,257.6L944,259L944.3,259.7L947.3,278.5L950,271.4L950.4,270.3L956,264.7L956.5,264.2L960.6,272.1L962,272.1L963.7,272.1L966.7,262.1L968,261.7L969.8,261.4L972.9,250.6L974,255.9L975.9,265.1L980,295.6L982.7,311.2L986,312L986.1,312L990.2,317.8L992,318.4L995.3,319.6L998,315.5L999.4,313.5L1002.4,315.2L1004,317.7L1004.9,319.1L1005,319.1V426.3Z" fill="#e2468a"/>
<path d="M228.8,426.3V415.7L230,414.4L236,409.6L241.7,405L242,405L244.2,405.1L248,405.6L250.8,406L254,403L255,402.1L260,399.7L265,396.4L266,395.9L267.5,395.3L272,392L273.3,391L278,394L280,395.3L283,388L283.3,388.1L284,388.8L286.7,391.2L287.5,390.2L290,385.7L293,380.1L293.3,380.1L295.8,382.2L296,382.6L299.2,390.1L302,384.2L302.2,384L305,395.2L308,397.1L309.2,397.8L312.5,392.6L314,393.3L315.8,394.2L318.3,392.3L320,388.6L322.5,383.1L325.8,380L326,379.9L328.3,378.3L331.7,370.5L332,370.3L334.2,368.2L337.8,357L338,357.1L344,365.9L344.2,366.1L347.5,363.2L350,365.4L353.3,368.3L356,390.5L356.7,396L360,397.1L362,398.7L363.3,399.8L365.8,399.3L368,402.4L369.2,404.2L373.3,413.6L374,412.5L376.3,408.4L379.7,411.6L380,411.4L386,405.9L386.7,405.3L391.7,400.8L392,400.8L395.8,400.3L398,396.9L398.7,395.9L402.5,402.3L404,402.9L405.8,403.6L409.2,402.3L410,401.3L411.7,399.2L415,403.6L416,404.1L418.3,405.3L422,404.9L423.3,404.8L428,405.1L430,405.3L434,398.9L434.2,398.6L436.7,397.9L440,405.3L445,406.1L446,406L451.7,405.3L452,405.4L456.7,406.4L458,406.2L460.8,405.8L464,405.8L465.8,405.8L470,399.4L473.3,397L476,396.9L476.7,396.9L479.2,395.6L482,397.9L482.5,398.3L485.8,395L488,394.9L489.2,394.9L491.7,394.4L494,395.9L495,396.6L498.3,389.5L500,389.4L501.7,389.4L506,386.9L507.5,386.1L510.8,381.1L512,383.1L514.2,386.8L518,385L520,384L524,384.9L526.7,385.4L530,382.4L533.3,379.5L536,381.7L538.3,383.6L542,380.1L545,377.3L548,376.6L549.2,376.2L553,374.2L554,374.5L556.7,375.4L559.2,375L560,375L562.5,375.2L565,374.4L566,375.5L568.3,378.2L569.2,378.5L572,378L573.3,377.7L576.7,376.8L578,376.5L578.3,376.5L583.3,375.8L584,375.3L588.3,371.9L590,372.6L591.7,373.4L595,374.5L596,373.1L600,367.7L602,364.7L603.3,362.7L605.8,358.9L606.7,357.6L607.5,357.2L608,357.6L610,359.1L613.3,354L614,352.9L614.5,352.1L619.2,345L620,344.7L620.1,344.7L623.3,345.7L625.6,345L626,344.8L629.2,343.3L630.1,343.3L632,343.9L632.8,344.2L633.4,343.4L636.2,333.9L636.8,333.1L638,334.3L643.3,339.7L643.4,339.7L644,338.9L646.7,335L647.9,332.4L650,326.3L650.5,324.8L650.8,323.5L654.6,306.7L656,299.7L661.9,270.1L662,270.4L666.8,288.7L667.9,289.3L668,289.3L671.3,285.7L672.4,287.9L674,294.4L677.9,310.1L680,307L684.6,299.8L686,302L691.3,310.9L692,307.3L696.9,282.6L698,281.6L700.6,279.2L704,283.6L705.8,286L710,289.2L712.4,291L716,299.9L716.9,302.2L722,288.2L722.9,285.7L728,301.6L733.6,318.9L734,318.7L735.6,317.8L738.3,312.2L740,316.2L745.2,329.6L746,327.9L752,314.7L754.1,310L758,316.7L758.8,318L764,309L764.3,308.4L768,311.6L769.3,311.8L770,310.3L770.8,308.6L773.6,286.4L774,283.7L776,280.4L776.4,279.7L777.3,278L782,259.2L787.1,238.7L787.5,239.4L788,242L793.1,269.2L794,267.3L799.6,255.8L800,257.2L803.3,268.4L804.2,267.8L806,265L807,263.4L808.8,262.6L809.4,262.6L811.6,270.6L812,272.5L812.6,275.5L815.7,295.5L816.3,296.2L818,294.7L818.1,294.6L820.9,293.8L821.8,298.1L823.7,310.8L824,312.7L825.5,322.5L829.3,327.3L830,328.7L832,332.7L833.9,336.1L834.8,336.4L836,336.8L836.7,337.1L838.5,339.5L841.3,343.5L842,344.4L844.1,346.9L845.6,343L847.4,343.9L848,342.1L851.1,332L853.9,331.4L854,331.4L854.5,331.4L856.3,324.8L857.1,308.4L857.6,299.7L860,300.5L862.3,301.6L866,300.7L867.8,300.3L872,300.6L873,300.7L876.5,311.6L876.7,311.5L878,307.5L879.9,301.6L883.6,293.9L884,290.8L887.3,265.3L889.7,241L890,239.3L890.1,238.8L892.5,235.2L892.9,237L895.7,251.9L896,251.3L897.9,247.2L899.4,207.7L902,202L902.2,201.5L905.3,186.2L908,197.6L909.6,204.3L911.4,205.6L912.4,204.1L914,194.7L915.7,184.7L917.9,190.9L920,208L920.7,213.7L921.6,212.7L922.6,207.9L924.6,191.4L924.8,193L926,208.4L926.3,212.4L927.6,233L928.1,234L930.9,229.1L932,227.6L934.6,224L937.4,228.9L938,233.5L938.3,235.8L939.8,247.2L941.2,255L943.3,260.2L944,261.7L944.3,262.3L947.3,280.6L950,273.6L950.4,272.5L956,267L956.5,266.5L960.6,274.2L962,274.2L963.7,274.1L966.7,264.2L968,263.9L969.8,263.6L972.9,252.9L974,258.1L975.9,267L980,297L982.7,312.5L986,313.3L986.1,313.3L990.2,319.1L992,319.7L995.3,320.8L998,316.8L999.4,314.7L1002.4,316.4L1004,318.8L1004.9,320.2L1005,320.2V426.3Z" fill="#cf2f8c"/>
<path d="M228.8,426.3V415.7L230,414.5L236,409.6L241.7,405.1L242,405.1L244.2,405.2L248,405.7L250.8,406L254,403.1L255,402.1L260,399.8L265,396.6L266,396.1L267.5,395.4L272,392.2L273.3,391.3L278,394.2L280,395.5L283,388.2L283.3,388.4L284,389.1L286.7,391.7L287.5,390.7L290,386.6L293,381.7L293.3,381.9L295.8,384.7L296,385.1L299.2,392.7L302,386.3L302.2,386.1L305,396.7L308,398.7L309.2,399.4L312.5,394.7L314,395.4L315.8,396.3L318.3,394.1L320,390.4L322.5,384.8L325.8,381.9L326,381.8L328.3,379.9L331.7,372.8L332,372.5L334.2,370.3L337.8,360.4L338,360.6L344,368.6L344.2,368.8L347.5,365.8L350,367.8L353.3,370.3L356,392L356.7,397.3L360,398L362,399.5L363.3,400.4L365.8,399.6L368,402.7L369.2,404.4L373.3,413.6L374,412.5L376.3,408.4L379.7,411.6L380,411.4L386,405.9L386.7,405.3L391.7,400.8L392,400.8L395.8,400.3L398,396.9L398.7,395.9L402.5,402.3L404,402.9L405.8,403.6L409.2,402.3L410,401.3L411.7,399.2L415,403.6L416,404.1L418.3,405.3L422,404.9L423.3,404.8L428,405.1L430,405.3L434,398.9L434.2,398.6L436.7,397.9L440,405.3L445,406.1L446,406L451.7,405.3L452,405.4L456.7,406.4L458,406.2L460.8,405.8L464,405.8L465.8,405.8L470,399.4L473.3,397L476,396.9L476.7,396.9L479.2,395.6L482,397.9L482.5,398.3L485.8,395L488,394.9L489.2,394.9L491.7,394.4L494,395.9L495,396.6L498.3,389.5L500,389.4L501.7,389.4L506,386.9L507.5,386.1L510.8,381.1L512,383.1L514.2,386.8L518,385L520,384L524,384.9L526.7,385.4L530,382.4L533.3,379.5L536,381.7L538.3,383.6L542,380.1L545,377.3L548,376.6L549.2,376.2L553,374.2L554,374.5L556.7,375.4L559.2,375L560,375L562.5,375.2L565,374.4L566,375.5L568.3,378.2L569.2,378.5L572,378L573.3,377.7L576.7,376.8L578,376.5L578.3,376.5L583.3,375.8L584,375.3L588.3,371.9L590,372.6L591.7,373.4L595,374.5L596,373.1L600,367.7L602,364.7L603.3,362.7L605.8,358.9L606.7,357.6L607.5,357.2L608,357.6L610,359.1L613.3,354L614,352.9L614.5,352.1L619.2,345L620,344.7L620.1,344.7L623.3,345.7L625.6,345L626,344.8L629.2,343.3L630.1,343.3L632,343.9L632.8,344.2L633.4,343.4L636.2,333.9L636.8,333.1L638,334.3L643.3,339.7L643.4,339.7L644,338.9L646.7,335L647.9,332.4L650,326.3L650.5,324.8L650.8,323.5L654.6,306.7L656,299.7L661.9,270.1L662,270.4L666.8,288.7L667.9,289.3L668,289.3L671.3,285.7L672.4,287.9L674,294.4L677.9,310.1L680,307L684.6,299.8L686,302L691.3,310.9L692,307.3L696.9,282.6L698,281.6L700.6,279.2L704,283.6L705.8,286L710,289.2L712.4,291L716,299.9L716.9,302.2L722,288.2L722.9,285.7L728,301.6L733.6,318.9L734,318.7L735.6,317.8L738.3,312.2L740,316.2L745.2,329.6L746,327.9L752,314.7L754.1,310L758,316.7L758.8,318L764,309L764.3,308.4L768,311.6L769.3,311.8L770,310.3L770.8,308.6L773.6,286.4L774,283.7L776,280.4L776.4,279.7L777.3,278L782,259.2L787.1,238.7L787.5,239.4L788,242L793.1,269.2L794,267.3L799.6,255.8L800,257.2L803.3,268.4L804.2,267.8L806,265L807,263.4L808.8,262.6L809.4,262.6L811.6,270.6L812,272.5L812.6,275.5L815.7,295.5L816.3,296.2L818,294.7L818.1,294.6L820.9,293.8L821.8,298.1L823.7,310.8L824,312.7L825.5,322.5L829.3,327.3L830,328.7L832,332.7L833.9,336.1L834.8,336.4L836,336.8L836.7,337.1L838.5,339.5L841.3,343.5L842,344.4L844.1,346.9L845.6,343L847.4,343.9L848,342.1L851.1,332L853.9,331.4L854,331.4L854.5,331.4L856.3,324.8L857.1,308.4L857.6,299.7L860,300.5L862.3,301.6L866,300.7L867.8,300.3L872,300.6L873,300.7L876.5,311.6L876.7,311.5L878,307.5L879.9,301.6L883.6,293.9L884,290.8L887.3,265.3L889.7,241L890,239.3L890.1,238.8L892.5,235.2L892.9,237L895.7,251.9L896,251.3L897.9,247.2L899.4,207.7L902,202L902.2,201.5L905.3,186.2L908,197.6L909.6,204.3L911.4,205.6L912.4,204.1L914,194.7L915.7,184.7L917.9,190.9L920,208L920.7,213.7L921.6,212.7L922.6,207.9L924.6,191.4L924.8,193L926,208.4L926.3,212.4L927.6,233L928.1,234L930.9,229.1L932,227.6L934.6,224L937.4,228.9L938,233.5L938.3,235.8L939.8,247.2L941.2,255L943.3,260.2L944,261.7L944.3,262.3L947.3,280.6L950,273.6L950.4,272.5L956,267L956.5,266.5L960.6,274.2L962,274.2L963.7,274.1L966.7,264.2L968,263.9L969.8,263.6L972.9,252.9L974,258.1L975.9,267L980,297L982.7,312.5L986,313.3L986.1,313.3L990.2,319.1L992,319.7L995.3,320.8L998,316.8L999.4,314.7L1002.4,316.4L1004,318.8L1004.9,320.2L1005,320.2V426.3Z" fill="#3f83d8"/>
<path d="M228.8,426.3V415.7L230,414.5L236,409.6L241.7,405.1L242,405.1L244.2,405.2L248,405.7L250.8,406L254,403.1L255,402.1L260,399.8L265,396.6L266,396.1L267.5,395.4L272,392.2L273.3,391.3L278,394.2L280,395.5L283,388.2L283.3,388.4L284,389.1L286.7,391.7L287.5,390.7L290,386.6L293,381.7L293.3,381.9L295.8,384.7L296,385.1L299.2,392.7L302,386.3L302.2,386.1L305,396.7L308,398.7L309.2,399.4L312.5,394.7L314,395.4L315.8,396.3L318.3,394.1L320,390.4L322.5,384.8L325.8,381.9L326,381.8L328.3,379.9L331.7,372.8L332,372.5L334.2,370.3L337.8,360.4L338,360.6L344,368.6L344.2,368.8L347.5,365.8L350,367.8L353.3,370.3L356,392L356.7,397.3L360,398L362,399.5L363.3,400.4L365.8,399.6L368,402.7L369.2,404.4L373.3,413.6L374,412.5L376.3,408.4L379.7,411.6L380,411.4L386,405.9L386.7,405.3L391.7,400.8L392,400.8L395.8,400.3L398,396.9L398.7,395.9L402.5,402.3L404,402.9L405.8,403.6L409.2,402.3L410,401.3L411.7,399.2L415,403.6L416,404.1L418.3,405.3L422,404.9L423.3,404.8L428,405.1L430,405.3L434,398.9L434.2,398.6L436.7,397.9L440,405.3L445,406.1L446,406L451.7,405.3L452,405.4L456.7,406.4L458,406.2L460.8,405.8L464,405.8L465.8,405.8L470,399.4L473.3,397L476,396.9L476.7,396.9L479.2,395.6L482,397.9L482.5,398.3L485.8,395L488,394.9L489.2,394.9L491.7,394.4L494,395.9L495,396.6L498.3,389.5L500,389.4L501.7,389.4L506,386.9L507.5,386.1L510.8,381.1L512,383.1L514.2,386.8L518,385L520,384L524,384.9L526.7,385.4L530,382.4L533.3,379.5L536,381.7L538.3,383.6L542,380.1L545,377.3L548,376.6L549.2,376.2L553,374.2L554,374.5L556.7,375.4L559.2,375L560,375L562.5,375.2L565,374.4L566,375.5L568.3,378.2L569.2,378.5L572,378L573.3,377.7L576.7,376.8L578,376.5L578.3,376.5L583.3,375.8L584,375.3L588.3,371.9L590,372.6L591.7,373.4L595,374.5L596,373.1L600,367.7L602,364.7L603.3,362.7L605.8,358.9L606.7,357.6L607.5,357.2L608,357.6L610,359.1L613.3,354L614,352.9L614.5,352.1L619.2,345L620,344.7L620.1,344.7L623.3,345.7L625.6,345L626,344.8L629.2,343.3L630.1,343.3L632,343.9L632.8,344.2L633.4,343.4L636.2,333.9L636.8,333.1L638,334.3L643.3,339.7L643.4,339.7L644,338.9L646.7,335L647.9,332.4L650,326.3L650.5,324.8L650.8,323.5L654.6,306.7L656,299.7L661.9,270.1L662,270.4L666.8,288.7L667.9,289.3L668,289.3L671.3,285.7L672.4,287.9L674,294.4L677.9,310.1L680,307L684.6,299.8L686,302L691.3,310.9L692,307.3L696.9,282.6L698,281.6L700.6,279.2L704,283.6L705.8,286L710,289.2L712.4,291L716,299.9L716.9,302.2L722,288.2L722.9,285.7L728,301.6L733.6,318.9L734,318.7L735.6,317.8L738.3,312.2L740,316.2L745.2,329.6L746,327.9L752,314.7L754.1,310L758,316.7L758.8,318L764,309L764.3,308.4L768,311.6L769.3,311.8L770,310.3L770.8,308.6L773.6,286.4L774,283.7L776,280.5L776.4,279.8L777.3,278.2L782,259.4L787.1,239.1L787.5,239.8L788,242.4L793.1,269.6L794,267.8L799.6,256.5L800,257.9L803.3,269.1L804.2,268.6L806,265.8L807,264.3L808.8,263.5L809.4,263.6L811.6,271.5L812,273.4L812.6,276.4L815.7,296.3L816.3,297.1L818,295.6L818.1,295.6L820.9,294.8L821.8,299L823.7,311.5L824,313.4L825.5,323.1L829.3,328L830,329.4L832,333.3L833.9,336.7L834.8,337.1L836,337.5L836.7,337.8L838.5,340.3L841.3,344.3L842,345.2L844.1,347.8L845.6,344L847.4,345.1L848,343.2L851.1,333.3L853.9,332.7L854,332.8L854.5,332.7L856.3,325.7L857.1,309.8L857.6,301.5L860,302.4L862.3,303.6L866,302.8L867.8,302.5L872,302.8L873,302.9L876.5,313.6L876.7,313.6L878,309.7L879.9,303.9L883.6,296.3L884,293.3L887.3,268.6L889.7,244.6L890,242.9L890.1,242.4L892.5,239.4L892.9,241.1L895.7,255.7L896,254.9L897.9,249.6L899.4,212.3L902,206.6L902.2,206.1L905.3,191.6L908,202.6L909.6,209.1L911.4,210.8L912.4,209.2L914,200.2L915.7,190.7L917.9,197.1L920,213.3L920.7,218.8L921.6,218.2L922.6,213.3L924.6,197.3L924.8,198.6L926,213.6L926.3,217.5L927.6,237.4L928.1,238.7L930.9,234.1L932,232.6L934.6,229.2L937.4,234.2L938,238.5L938.3,240.7L939.8,251.2L941.2,258.8L943.3,264.5L944,266L944.3,266.7L947.3,284.1L950,277.5L950.4,276.4L956,271.1L956.5,270.7L960.6,278.1L962,278.2L963.7,278.1L966.7,268.4L968,268.2L969.8,268L972.9,257.6L974,262.4L975.9,270.8L980,300.2L982.7,315.5L986,316.3L986.1,316.3L990.2,322L992,322.6L995.3,323.7L998,319.9L999.4,317.9L1002.4,319.5L1004,321.8L1004.9,323.1L1005,323.1V426.3Z" fill="#7d4db3"/>
<path d="M228.8,426.3V415.7L230,414.5L236,409.6L241.7,405.1L242,405.1L244.2,405.2L248,405.7L250.8,406L254,403.1L255,402.1L260,399.8L265,396.6L266,396.1L267.5,395.4L272,392.2L273.3,391.3L278,394.2L280,395.5L283,388.2L283.3,388.4L284,389.1L286.7,391.7L287.5,390.7L290,386.6L293,381.7L293.3,381.9L295.8,384.7L296,385.1L299.2,392.7L302,386.3L302.2,386.1L305,396.7L308,398.7L309.2,399.4L312.5,394.7L314,395.4L315.8,396.3L318.3,394.1L320,390.4L322.5,384.8L325.8,381.9L326,381.8L328.3,379.9L331.7,372.8L332,372.5L334.2,370.3L337.8,360.4L338,360.6L344,368.6L344.2,368.8L347.5,365.8L350,367.8L353.3,370.3L356,392L356.7,397.3L360,398L362,399.5L363.3,400.4L365.8,399.6L368,402.7L369.2,404.4L373.3,413.6L374,412.5L376.3,408.4L379.7,411.6L380,411.4L386,405.9L386.7,405.3L391.7,400.8L392,400.8L395.8,400.3L398,396.9L398.7,395.9L402.5,402.3L404,402.9L405.8,403.6L409.2,402.3L410,401.3L411.7,399.2L415,403.6L416,404.1L418.3,405.3L422,404.9L423.3,404.8L428,405.1L430,405.3L434,398.9L434.2,398.6L436.7,397.9L440,405.3L445,406.1L446,406L451.7,405.3L452,405.4L456.7,406.4L458,406.2L460.8,405.8L464,405.8L465.8,405.8L470,399.4L473.3,397L476,396.9L476.7,396.9L479.2,395.6L482,397.9L482.5,398.3L485.8,395L488,394.9L489.2,394.9L491.7,394.4L494,395.9L495,396.6L498.3,389.5L500,389.4L501.7,389.4L506,386.9L507.5,386.1L510.8,381.1L512,383.1L514.2,386.8L518,385L520,384L524,384.9L526.7,385.4L530,382.4L533.3,379.5L536,381.7L538.3,383.6L542,380.1L545,377.3L548,376.6L549.2,376.2L553,374.2L554,374.5L556.7,375.4L559.2,375L560,375L562.5,375.2L565,374.5L566,375.6L568.3,378.3L569.2,378.7L572,378.1L573.3,377.9L576.7,377.1L578,376.8L578.3,376.7L583.3,376.1L584,375.6L588.3,372.3L590,373L591.7,373.8L595,375L596,373.7L600,368.3L602,365.4L603.3,363.6L605.8,359.9L606.7,358.6L607.5,358.3L608,358.7L610,360.2L613.3,355.2L614,354.2L614.5,353.4L619.2,346.4L620,346.3L620.1,346.3L623.3,347.6L625.6,346.8L626,346.7L629.2,345.2L630.1,345.3L632,345.9L632.8,346.2L633.4,345.3L636.2,336.1L636.8,335.5L638,336.7L643.3,342L643.4,342.1L644,341.3L646.7,337.7L647.9,335.2L650,329.4L650.5,328L650.8,326.6L654.6,309.3L656,302.8L661.9,275.4L662,275.7L666.8,292.7L667.9,293.8L668,293.7L671.3,290.4L672.4,292L674,298.2L677.9,313.4L680,310.4L684.6,303.4L686,305.6L691.3,314.3L692,310.9L696.9,287.2L698,286.3L700.6,284L704,288L705.8,290.1L710,293.2L712.4,295L716,303.5L716.9,305.7L722,292.6L722.9,290.3L728,305.2L733.6,321.9L734,321.8L735.6,321.4L738.3,316L740,319.9L745.2,332.3L746,330.8L752,318.3L754.1,313.8L758,320.1L758.8,321.3L764,312.6L764.3,312.1L768,315.2L769.3,315.4L770,313.7L770.8,311.7L773.6,290.8L774,288.4L776,284.9L776.4,284.2L777.3,282.4L782,264.2L787.1,244.5L787.5,244.9L788,247.4L793.1,273.8L794,272L799.6,261.3L800,262.6L803.3,273.2L804.2,273L806,270.4L807,269L808.8,268.3L809.4,268.4L811.6,275.7L812,277.6L812.6,280.5L815.7,299.7L816.3,300.6L818,299.2L818.1,299.1L820.9,298.2L821.8,301.9L823.7,313.8L824,315.6L825.5,324.8L829.3,329.8L830,331.1L832,335L833.9,338.3L834.8,338.7L836,339.3L836.7,339.6L838.5,342L841.3,346.1L842,347L844.1,349.6L845.6,346.1L847.4,347.2L848,345.4L851.1,335.6L853.9,335.1L854,335.1L854.5,335L856.3,327.1L857.1,311.9L857.6,304.4L860,305.1L862.3,306.2L866,305.3L867.8,304.9L872,305.1L873,305.2L876.5,315.5L876.7,315.5L878,311.6L879.9,305.8L883.6,298.2L884,295.2L887.3,270.9L889.7,247L890,245.3L890.1,244.7L892.5,241.9L892.9,243.5L895.7,257.8L896,256.8L897.9,250.8L899.4,214.6L902,208.9L902.2,208.4L905.3,194.2L908,205.1L909.6,211.5L911.4,213.3L912.4,211.6L914,202.8L915.7,193.5L917.9,200L920,215.8L920.7,221.2L921.6,220.7L922.6,215.8L924.6,200L924.8,201.2L926,216L926.3,219.8L927.6,239.3L928.1,240.9L930.9,236.4L932,234.9L934.6,231.5L937.4,236.6L938,240.8L938.3,242.8L939.8,253L941.2,260.4L943.3,266.3L944,267.9L944.3,268.6L947.3,285.6L950,279.1L950.4,278.1L956,272.9L956.5,272.4L960.6,279.8L962,279.8L963.7,279.8L966.7,270.2L968,269.9L969.8,269.7L972.9,259.4L974,264.2L975.9,272.4L980,301.5L982.7,316.7L986,317.5L986.1,317.5L990.2,323.2L992,323.7L995.3,324.8L998,321.1L999.4,319.1L1002.4,320.7L1004,322.9L1004.9,324.1L1005,324.1V426.3Z" fill="#ef8d1c"/>
<path d="M228.8,426.3V415.7L230,414.5L236,409.6L241.7,405.1L242,405.1L244.2,405.2L248,405.7L250.8,406L254,403.1L255,402.1L260,399.8L265,396.6L266,396.1L267.5,395.4L272,392.2L273.3,391.3L278,394.2L280,395.5L283,388.2L283.3,388.4L284,389.1L286.7,391.7L287.5,390.7L290,386.6L293,381.7L293.3,381.9L295.8,384.7L296,385.1L299.2,392.7L302,386.3L302.2,386.1L305,396.7L308,398.7L309.2,399.4L312.5,394.7L314,395.4L315.8,396.3L318.3,394.1L320,390.4L322.5,384.8L325.8,381.9L326,381.8L328.3,379.9L331.7,372.8L332,372.5L334.2,370.3L337.8,360.4L338,360.6L344,368.6L344.2,368.8L347.5,365.8L350,367.8L353.3,370.3L356,392L356.7,397.3L360,398L362,399.5L363.3,400.4L365.8,399.6L368,402.7L369.2,404.4L373.3,413.6L374,412.5L376.3,408.4L379.7,411.6L380,411.4L386,405.9L386.7,405.3L391.7,400.8L392,400.8L395.8,400.3L398,396.9L398.7,395.9L402.5,402.3L404,402.9L405.8,403.6L409.2,402.3L410,401.3L411.7,399.2L415,403.6L416,404.1L418.3,405.3L422,404.9L423.3,404.8L428,405.1L430,405.3L434,398.9L434.2,398.6L436.7,397.9L440,405.3L445,406.1L446,406L451.7,405.3L452,405.4L456.7,406.4L458,406.2L460.8,405.8L464,405.8L465.8,405.8L470,399.4L473.3,397L476,396.9L476.7,396.9L479.2,395.6L482,397.9L482.5,398.3L485.8,395L488,394.9L489.2,394.9L491.7,394.4L494,395.9L495,396.6L498.3,389.5L500,389.4L501.7,389.4L506,386.9L507.5,386.1L510.8,381.1L512,383.1L514.2,386.8L518,385L520,384L524,384.9L526.7,385.4L530,382.4L533.3,379.5L536,381.7L538.3,383.6L542,380.1L545,377.3L548,376.6L549.2,376.2L553,374.2L554,374.5L556.7,375.4L559.2,375L560,375L562.5,375.2L565,374.5L566,375.6L568.3,378.3L569.2,378.7L572,378.1L573.3,377.9L576.7,377.1L578,376.8L578.3,376.7L583.3,376.1L584,375.6L588.3,372.3L590,373L591.7,373.8L595,375L596,373.7L600,368.3L602,365.4L603.3,363.6L605.8,359.9L606.7,358.6L607.5,358.3L608,358.7L610,360.2L613.3,355.2L614,354.2L614.5,353.4L619.2,346.4L620,346.3L620.1,346.3L623.3,347.6L625.6,346.8L626,346.7L629.2,345.2L630.1,345.3L632,345.9L632.8,346.2L633.4,345.3L636.2,336.1L636.8,335.5L638,336.7L643.3,342L643.4,342.1L644,341.3L646.7,337.7L647.9,335.2L650,329.4L650.5,328L650.8,326.6L654.6,309.3L656,302.8L661.9,275.4L662,275.7L666.8,292.7L667.9,293.8L668,293.7L671.3,290.4L672.4,292L674,298.2L677.9,313.4L680,310.4L684.6,303.4L686,305.6L691.3,314.3L692,310.9L696.9,287.2L698,286.3L700.6,284L704,288L705.8,290.1L710,293.2L712.4,295L716,303.5L716.9,305.7L722,292.6L722.9,290.3L728,305.2L733.6,321.9L734,321.8L735.6,321.4L738.3,316.2L740,320.1L745.2,332.7L746,331.1L752,319L754.1,314.7L758,321.1L758.8,322.3L764,314L764.3,313.5L768,316.7L769.3,317L770,315.3L770.8,313.2L773.6,293.1L774,290.7L776,287.2L776.4,286.4L777.3,284.6L782,266.7L787.1,247.4L787.5,247.7L788,250.2L793.1,276.1L794,274.4L799.6,264.1L800,265.3L803.3,275.7L804.2,275.5L806,273.2L807,271.8L808.8,271.1L809.4,271.3L811.6,278.2L812,280.1L812.6,283L815.7,301.7L816.3,302.8L818,301.4L818.1,301.3L820.9,300.4L821.8,303.8L823.7,315.3L824,317L825.5,326L829.3,331L830,332.4L832,336.2L833.9,339.4L834.8,339.9L836,340.5L836.7,340.9L838.5,343.3L841.3,347.4L842,348.2L844.1,350.9L845.6,347.7L847.4,348.8L848,347L851.1,337.4L853.9,336.9L854,336.9L854.5,336.8L856.3,328.3L857.1,313.7L857.6,306.8L860,307.6L862.3,308.7L866,308L867.8,307.6L872,307.9L873,307.9L876.5,318L876.7,318.1L878,314.3L879.9,308.6L883.6,301.1L884,298.3L887.3,274.9L889.7,251.4L890,249.5L890.1,249L892.5,246.9L892.9,248.4L895.7,262.2L896,261L897.9,253.6L899.4,220.1L902,214.3L902.2,213.8L905.3,200.5L908,210.9L909.6,217L911.4,219.3L912.4,217.4L914,209.1L915.7,200.2L917.9,207L920,221.9L920.7,226.8L921.6,226.9L922.6,221.9L924.6,206.5L924.8,207.4L926,221.9L926.3,225.6L927.6,244.1L928.1,246.1L930.9,241.9L932,240.5L934.6,237.2L937.4,242.5L938,246.3L938.3,248.2L939.8,257.4L941.2,264.6L943.3,270.9L944,272.6L944.3,273.4L947.3,289.4L950,283.2L950.4,282.3L956,277.3L956.5,276.9L960.6,283.9L962,284L963.7,283.9L966.7,274.6L968,274.4L969.8,274.3L972.9,264.3L974,268.7L975.9,276.4L980,304.8L982.7,319.7L986,320.5L986.1,320.6L990.2,326.2L992,326.7L995.3,327.7L998,324.2L999.4,322.3L1002.4,323.8L1004,325.8L1004.9,327L1005,327V426.3Z" fill="#3fae8f"/>
<path d="M228.8,426.3V415.7L230,414.5L236,409.6L241.7,405.1L242,405.1L244.2,405.2L248,405.7L250.8,406L254,403.1L255,402.1L260,399.8L265,396.6L266,396.1L267.5,395.4L272,392.2L273.3,391.3L278,394.2L280,395.5L283,388.2L283.3,388.4L284,389.1L286.7,391.7L287.5,390.7L290,386.6L293,381.7L293.3,381.9L295.8,384.7L296,385.1L299.2,392.7L302,386.3L302.2,386.1L305,396.7L308,398.7L309.2,399.4L312.5,394.7L314,395.4L315.8,396.3L318.3,394.1L320,390.4L322.5,384.8L325.8,381.9L326,381.8L328.3,379.9L331.7,372.8L332,372.5L334.2,370.3L337.8,360.4L338,360.6L344,368.6L344.2,368.8L347.5,365.8L350,367.8L353.3,370.3L356,392L356.7,397.3L360,398L362,399.5L363.3,400.4L365.8,399.6L368,402.7L369.2,404.4L373.3,413.6L374,412.5L376.3,408.4L379.7,411.6L380,411.4L386,405.9L386.7,405.3L391.7,400.8L392,400.8L395.8,400.3L398,396.9L398.7,395.9L402.5,402.3L404,402.9L405.8,403.6L409.2,402.3L410,401.3L411.7,399.2L415,403.6L416,404.1L418.3,405.3L422,404.9L423.3,404.8L428,405.1L430,405.3L434,398.9L434.2,398.6L436.7,397.9L440,405.3L445,406.1L446,406L451.7,405.3L452,405.4L456.7,406.4L458,406.2L460.8,405.8L464,405.8L465.8,405.8L470,399.4L473.3,397L476,396.9L476.7,396.9L479.2,395.6L482,397.9L482.5,398.3L485.8,395L488,394.9L489.2,394.9L491.7,394.4L494,395.9L495,396.6L498.3,389.5L500,389.4L501.7,389.4L506,386.9L507.5,386.1L510.8,381.1L512,383.1L514.2,386.8L518,385L520,384L524,384.9L526.7,385.4L530,382.4L533.3,379.5L536,381.7L538.3,383.6L542,380.1L545,377.3L548,376.6L549.2,376.2L553,374.2L554,374.5L556.7,375.4L559.2,375L560,375L562.5,375.2L565,374.5L566,375.6L568.3,378.3L569.2,378.7L572,378.1L573.3,377.9L576.7,377.1L578,376.8L578.3,376.7L583.3,376.1L584,375.6L588.3,372.3L590,373L591.7,373.8L595,375L596,373.7L600,368.3L602,365.4L603.3,363.6L605.8,359.9L606.7,358.6L607.5,358.3L608,358.7L610,360.2L613.3,355.2L614,354.2L614.5,353.4L619.2,346.4L620,346.3L620.1,346.3L623.3,347.6L625.6,346.8L626,346.7L629.2,345.2L630.1,345.3L632,345.9L632.8,346.2L633.4,345.3L636.2,336.1L636.8,335.5L638,336.7L643.3,342L643.4,342.1L644,341.3L646.7,337.7L647.9,335.2L650,329.4L650.5,328L650.8,326.6L654.6,309.3L656,302.8L661.9,275.4L662,275.7L666.8,292.7L667.9,293.8L668,293.7L671.3,290.4L672.4,292L674,298.2L677.9,313.4L680,310.4L684.6,303.4L686,305.6L691.3,314.3L692,310.9L696.9,287.2L698,286.3L700.6,284L704,288L705.8,290.1L710,293.2L712.4,295L716,303.5L716.9,305.7L722,292.6L722.9,290.3L728,305.2L733.6,321.9L734,321.8L735.6,321.4L738.3,316.2L740,320.1L745.2,332.7L746,331.1L752,319L754.1,314.7L758,321.1L758.8,322.3L764,314L764.3,313.5L768,316.7L769.3,317L770,315.3L770.8,313.2L773.6,293.1L774,290.7L776,287.2L776.4,286.4L777.3,284.6L782,266.7L787.1,247.4L787.5,247.7L788,250.2L793.1,276.1L794,274.4L799.6,264.1L800,265.3L803.3,275.7L804.2,275.5L806,273.2L807,271.8L808.8,271.1L809.4,271.3L811.6,278.2L812,280.1L812.6,283L815.7,301.7L816.3,302.8L818,301.4L818.1,301.3L820.9,300.4L821.8,303.8L823.7,315.3L824,317L825.5,326L829.3,331L830,332.4L832,336.2L833.9,339.4L834.8,339.9L836,340.5L836.7,340.9L838.5,343.3L841.3,347.4L842,348.2L844.1,350.9L845.6,347.7L847.4,348.8L848,347L851.1,337.4L853.9,336.9L854,336.9L854.5,336.8L856.3,328.4L857.1,313.9L857.6,307.1L860,308.1L862.3,309.4L866,309.1L867.8,308.9L872,309.5L873,309.6L876.5,319.8L876.7,319.9L878,316.2L879.9,310.8L883.6,303.6L884,300.9L887.3,278.6L889.7,255.7L890,253.7L890.1,253.2L892.5,251.9L892.9,253.3L895.7,266.9L896,265.5L897.9,256.6L899.4,226.2L902,220.4L902.2,219.9L905.3,207.6L908,217.5L909.6,223.4L911.4,226L912.4,224L914,216.2L915.7,207.9L917.9,215L920,228.7L920.7,233.3L921.6,234L922.6,228.8L924.6,214L924.8,214.5L926,228.5L926.3,232L927.6,249.6L928.1,252L930.9,248.1L932,246.8L934.6,243.7L937.4,249.1L938,252.5L938.3,254.2L939.8,262.3L941.2,269.3L943.3,276.2L944,277.9L944.3,278.7L947.3,293.8L950,287.9L950.4,287L956,282.3L956.5,281.9L960.6,288.7L962,288.7L963.7,288.7L966.7,279.6L968,279.5L969.8,279.5L972.9,269.8L974,273.9L975.9,281L980,308.5L982.7,323.1L986,324L986.1,324L990.2,329.6L992,330.1L995.3,331.1L998,327.7L999.4,326L1002.4,327.4L1004,329.2L1004.9,330.2L1005,330.2V426.3Z" fill="#8cc94e"/>
<path d="M228.8,426.3V415.7L230,414.5L236,409.6L241.7,405.1L242,405.1L244.2,405.2L248,405.7L250.8,406L254,403.1L255,402.1L260,399.8L265,396.6L266,396.1L267.5,395.4L272,392.2L273.3,391.3L278,394.2L280,395.5L283,388.2L283.3,388.4L284,389.1L286.7,391.7L287.5,390.7L290,386.6L293,381.7L293.3,381.9L295.8,384.7L296,385.1L299.2,392.7L302,386.3L302.2,386.1L305,396.7L308,398.7L309.2,399.4L312.5,394.7L314,395.4L315.8,396.3L318.3,394.1L320,390.4L322.5,384.8L325.8,381.9L326,381.8L328.3,379.9L331.7,372.8L332,372.5L334.2,370.3L337.8,360.4L338,360.6L344,368.6L344.2,368.8L347.5,365.8L350,367.8L353.3,370.3L356,392L356.7,397.3L360,398L362,399.5L363.3,400.4L365.8,399.6L368,402.7L369.2,404.4L373.3,413.6L374,412.5L376.3,408.4L379.7,411.6L380,411.4L386,405.9L386.7,405.3L391.7,400.8L392,400.8L395.8,400.3L398,396.9L398.7,395.9L402.5,402.3L404,402.9L405.8,403.6L409.2,402.3L410,401.3L411.7,399.2L415,403.6L416,404.1L418.3,405.3L422,404.9L423.3,404.8L428,405.1L430,405.3L434,398.9L434.2,398.6L436.7,397.9L440,405.3L445,406.1L446,406L451.7,405.3L452,405.4L456.7,406.4L458,406.2L460.8,405.8L464,405.8L465.8,405.8L470,399.4L473.3,397L476,396.9L476.7,396.9L479.2,395.6L482,397.9L482.5,398.3L485.8,395L488,394.9L489.2,394.9L491.7,394.4L494,395.9L495,396.6L498.3,389.5L500,389.4L501.7,389.4L506,386.9L507.5,386.1L510.8,381.1L512,383.1L514.2,386.8L518,385L520,384L524,384.9L526.7,385.4L530,382.4L533.3,379.5L536,381.7L538.3,383.6L542,380.1L545,377.3L548,376.6L549.2,376.2L553,374.2L554,374.5L556.7,375.4L559.2,375L560,375L562.5,375.2L565,374.5L566,375.6L568.3,378.3L569.2,378.7L572,378.1L573.3,377.9L576.7,377.1L578,376.8L578.3,376.7L583.3,376.1L584,375.6L588.3,372.3L590,373L591.7,373.8L595,375L596,373.7L600,368.3L602,365.4L603.3,363.6L605.8,359.9L606.7,358.6L607.5,358.3L608,358.7L610,360.2L613.3,355.2L614,354.2L614.5,353.4L619.2,346.4L620,346.3L620.1,346.3L623.3,347.6L625.6,346.8L626,346.7L629.2,345.2L630.1,345.3L632,345.9L632.8,346.2L633.4,345.3L636.2,336.1L636.8,335.5L638,336.7L643.3,342L643.4,342.1L644,341.3L646.7,337.7L647.9,335.2L650,329.4L650.5,328L650.8,326.6L654.6,309.3L656,302.8L661.9,275.4L662,275.7L666.8,292.7L667.9,293.8L668,293.7L671.3,290.4L672.4,292L674,298.2L677.9,313.4L680,310.4L684.6,303.4L686,305.6L691.3,314.3L692,310.9L696.9,287.2L698,286.3L700.6,284L704,288L705.8,290.1L710,293.2L712.4,295L716,303.5L716.9,305.7L722,292.6L722.9,290.3L728,305.2L733.6,321.9L734,321.8L735.6,321.4L738.3,316.4L740,320.4L745.2,333.1L746,331.7L752,320.1L754.1,316L758,322.6L758.8,323.8L764,316L764.3,315.6L768,319L769.3,319.5L770,317.7L770.8,315.5L773.6,296.4L774,294.3L776,290.6L776.4,289.9L777.3,287.9L782,270.7L787.1,252.1L787.5,252.2L788,254.6L793.1,280L794,278.4L799.6,268.9L800,270.1L803.3,279.9L804.2,280.1L806,278.1L807,277L808.8,276.3L809.4,276.6L811.6,283L812,284.8L812.6,287.7L815.7,305.7L816.3,307L818,305.7L818.1,305.6L820.9,304.6L821.8,307.4L823.7,318.2L824,319.9L825.5,328.3L829.3,333.5L830,334.8L832,338.6L833.9,341.7L834.8,342.3L836,343.1L836.7,343.6L838.5,346L841.3,350.1L842,351L844.1,353.7L845.6,351.1L847.4,352.4L848,350.7L851.1,341.4L853.9,341L854,341L854.5,340.9L856.3,331L857.1,317.9L857.6,312.3L860,313.3L862.3,314.5L866,314.2L867.8,314.1L872,314.5L873,314.6L876.5,324.2L876.7,324.4L878,320.8L879.9,315.5L883.6,308.4L884,305.8L887.3,284.9L889.7,262.4L890,260.3L890.1,259.7L892.5,259.4L892.9,260.6L895.7,273.4L896,271.7L897.9,260.6L899.4,233.9L902,228.1L902.2,227.6L905.3,216.4L908,225.7L909.6,231.2L911.4,234.4L912.4,232.1L914,224.9L915.7,217.4L917.9,224.7L920,237.1L920.7,241.2L921.6,242.5L922.6,237.2L924.6,223L924.8,223.2L926,236.5L926.3,239.9L927.6,256.2L928.1,259.2L930.9,255.6L932,254.4L934.6,251.4L937.4,257.1L938,260L938.3,261.4L939.8,268.3L941.2,274.8L943.3,282.4L944,284.3L944.3,285.1L947.3,298.9L950,293.4L950.4,292.6L956,288.2L956.5,287.8L960.6,294.2L962,294.2L963.7,294.2L966.7,285.4L968,285.4L969.8,285.4L972.9,276L974,279.8L975.9,286.2L980,312.7L982.7,327L986,327.9L986.1,327.9L990.2,333.4L992,333.9L995.3,334.8L998,331.6L999.4,330L1002.4,331.3L1004,332.9L1004.9,333.8L1005,333.8V426.3Z" fill="#4f6fd2"/>
<path d="M228.8,426.3V415.7L230,414.5L236,409.6L241.7,405.1L242,405.1L244.2,405.2L248,405.7L250.8,406L254,403.1L255,402.1L260,399.8L265,396.6L266,396.1L267.5,395.4L272,392.2L273.3,391.3L278,394.2L280,395.5L283,388.2L283.3,388.4L284,389.1L286.7,391.7L287.5,390.7L290,386.6L293,381.7L293.3,381.9L295.8,384.7L296,385.1L299.2,392.7L302,386.3L302.2,386.1L305,396.7L308,398.7L309.2,399.4L312.5,394.7L314,395.4L315.8,396.3L318.3,394.1L320,390.4L322.5,384.8L325.8,381.9L326,381.8L328.3,379.9L331.7,372.8L332,372.5L334.2,370.3L337.8,360.4L338,360.6L344,368.6L344.2,368.8L347.5,365.8L350,367.8L353.3,370.3L356,392L356.7,397.3L360,398L362,399.5L363.3,400.4L365.8,399.6L368,402.7L369.2,404.4L373.3,413.6L374,412.5L376.3,408.4L379.7,411.6L380,411.4L386,405.9L386.7,405.3L391.7,400.8L392,400.8L395.8,400.3L398,396.9L398.7,395.9L402.5,402.3L404,402.9L405.8,403.6L409.2,402.3L410,401.3L411.7,399.2L415,403.6L416,404.1L418.3,405.3L422,404.9L423.3,404.8L428,405.1L430,405.3L434,398.9L434.2,398.6L436.7,397.9L440,405.3L445,406.1L446,406L451.7,405.3L452,405.4L456.7,406.4L458,406.2L460.8,405.8L464,405.8L465.8,405.8L470,399.4L473.3,397L476,396.9L476.7,396.9L479.2,395.6L482,397.9L482.5,398.3L485.8,395L488,394.9L489.2,394.9L491.7,394.4L494,395.9L495,396.6L498.3,389.5L500,389.4L501.7,389.4L506,386.9L507.5,386.1L510.8,381.1L512,383.1L514.2,386.8L518,385L520,384L524,384.9L526.7,385.4L530,382.4L533.3,379.5L536,381.7L538.3,383.6L542,380.1L545,377.3L548,376.6L549.2,376.2L553,374.2L554,374.5L556.7,375.4L559.2,375L560,375L562.5,375.2L565,374.5L566,375.6L568.3,378.3L569.2,378.7L572,378.1L573.3,377.9L576.7,377.1L578,376.8L578.3,376.7L583.3,376.1L584,375.6L588.3,372.3L590,373L591.7,373.8L595,375L596,373.7L600,368.3L602,365.4L603.3,363.6L605.8,359.9L606.7,358.6L607.5,358.4L608,358.7L610,360.3L613.3,355.3L614,354.3L614.5,353.5L619.2,346.6L620,346.5L620.1,346.5L623.3,347.8L625.6,347.1L626,346.9L629.2,345.5L630.1,345.6L632,346.3L632.8,346.6L633.4,345.6L636.2,336.5L636.8,336L638,337.2L643.3,342.5L643.4,342.6L644,341.8L646.7,338.3L647.9,335.8L650,330.1L650.5,328.7L650.8,327.4L654.6,309.9L656,303.6L661.9,276.9L662,277.1L666.8,293.8L667.9,295L668,295L671.3,291.7L672.4,293.1L674,299.3L677.9,314.3L680,311.4L684.6,304.4L686,306.6L691.3,315.2L692,311.9L696.9,288.5L698,287.6L700.6,285.4L704,289.3L705.8,291.3L710,294.4L712.4,296.2L716,304.6L716.9,306.7L722,293.9L722.9,291.6L728,306.2L733.6,322.8L734,322.8L735.6,322.5L738.3,317.5L740,321.4L745.2,333.9L746,332.5L752,321.1L754.1,317.1L758,323.5L758.8,324.7L764,317L764.3,316.6L768,319.9L769.3,320.4L770,318.5L770.8,316.2L773.6,297.6L774,295.5L776,291.8L776.4,291L777.3,289L782,272.1L787.1,253.7L787.5,253.7L788,256.1L793.1,281.3L794,279.8L799.6,270.5L800,271.7L803.3,281.4L804.2,281.6L806,279.7L807,278.7L808.8,278.1L809.4,278.4L811.6,284.6L812,286.4L812.6,289.3L815.7,307L816.3,308.4L818,307.1L818.1,307.1L820.9,306.1L821.8,308.7L823.7,319.2L824,320.8L825.5,329.1L829.3,334.3L830,335.6L832,339.4L833.9,342.4L834.8,343.1L836,343.9L836.7,344.4L838.5,346.8L841.3,351L842,351.9L844.1,354.7L845.6,352.2L847.4,353.6L848,351.9L851.1,342.8L853.9,342.4L854,342.4L854.5,342.3L856.3,331.8L857.1,319.2L857.6,314.1L860,315L862.3,316.2L866,315.9L867.8,315.7L872,316.1L873,316.2L876.5,325.6L876.7,325.8L878,322.3L879.9,317L883.6,309.9L884,307.4L887.3,286.8L889.7,264.5L890,262.4L890.1,261.7L892.5,261.7L892.9,262.8L895.7,275.4L896,273.5L897.9,261.8L899.4,236.3L902,230.4L902.2,229.9L905.3,219L908,228.2L909.6,233.6L911.4,236.9L912.4,234.6L914,227.6L915.7,220.2L917.9,227.6L920,239.6L920.7,243.6L921.6,245.1L922.6,239.7L924.6,225.7L924.8,225.8L926,238.9L926.3,242.3L927.6,258.2L928.1,261.3L930.9,257.9L932,256.7L934.6,253.7L937.4,259.5L938,262.2L938.3,263.6L939.8,270.1L941.2,276.5L943.3,284.2L944,286.2L944.3,287L947.3,300.4L950,295.1L950.4,294.3L956,289.9L956.5,289.6L960.6,295.8L962,295.9L963.7,295.8L966.7,287.2L968,287.1L969.8,287.2L972.9,277.9L974,281.5L975.9,287.8L980,314L982.7,328.2L986,329.1L986.1,329.1L990.2,334.6L992,335L995.3,335.9L998,332.8L999.4,331.2L1002.4,332.5L1004,334L1004.9,334.9L1005,334.9V426.3Z" fill="#f6b90f"/>
<path d="M228.8,426.3V415.7L230,414.5L236,409.6L241.7,405.1L242,405.1L244.2,405.2L248,405.7L250.8,406L254,403.1L255,402.1L260,399.8L265,396.6L266,396.1L267.5,395.4L272,392.2L273.3,391.3L278,394.2L280,395.5L283,388.2L283.3,388.4L284,389.1L286.7,391.7L287.5,390.7L290,386.6L293,381.7L293.3,381.9L295.8,384.7L296,385.1L299.2,392.7L302,386.3L302.2,386.1L305,396.7L308,398.7L309.2,399.4L312.5,394.7L314,395.4L315.8,396.3L318.3,394.1L320,390.4L322.5,384.8L325.8,381.9L326,381.8L328.3,379.9L331.7,372.8L332,372.5L334.2,370.3L337.8,360.4L338,360.6L344,368.6L344.2,368.8L347.5,365.8L350,367.8L353.3,370.3L356,392L356.7,397.3L360,398L362,399.5L363.3,400.4L365.8,399.6L368,402.7L369.2,404.4L373.3,413.6L374,412.5L376.3,408.4L379.7,411.6L380,411.4L386,405.9L386.7,405.3L391.7,400.8L392,400.8L395.8,400.3L398,396.9L398.7,395.9L402.5,402.3L404,402.9L405.8,403.7L409.2,402.3L410,401.3L411.7,399.2L415,403.7L416,404.2L418.3,405.3L422,405L423.3,404.8L428,405.2L430,405.3L434,398.9L434.2,398.7L436.7,397.9L440,405.3L445,406.2L446,406L451.7,405.3L452,405.4L456.7,406.5L458,406.3L460.8,405.8L464,405.8L465.8,405.8L470,399.5L473.3,397L476,397L476.7,397L479.2,395.7L482,397.9L482.5,398.3L485.8,395L488,395L489.2,395L491.7,394.5L494,396L495,396.7L498.3,389.6L500,389.5L501.7,389.5L506,387L507.5,386.2L510.8,381.2L512,383.2L514.2,386.9L518,385.1L520,384.2L524,385L526.7,385.6L530,382.6L533.3,379.6L536,381.8L538.3,383.7L542,380.3L545,377.5L548,376.7L549.2,376.4L553,374.4L554,374.8L556.7,375.6L559.2,375.3L560,375.3L562.5,375.5L565,374.8L566,376L568.3,378.6L569.2,379L572,378.5L573.3,378.3L576.7,377.5L578,377.2L578.3,377.2L583.3,376.6L584,376.1L588.3,372.9L590,373.6L591.7,374.4L595,375.7L596,374.4L600,369.2L602,366.4L603.3,364.6L605.8,361.1L606.7,359.9L607.5,359.8L608,360.2L610,361.7L613.3,356.9L614,355.9L614.5,355.1L619.2,348.3L620,348.5L620.1,348.5L623.3,350.3L625.6,349.5L626,349.4L629.2,348L630.1,348.2L632,348.9L632.8,349.2L633.4,348.1L636.2,339.4L636.8,339.3L638,340.5L643.3,345.7L643.4,345.7L644,345L646.7,342L647.9,339.5L650,334.3L650.5,333L650.8,331.6L654.6,313.4L656,307.8L661.9,284.1L662,284.3L666.8,299.3L667.9,301.2L668,301.2L671.3,298.2L672.4,298.8L674,304.7L677.9,319L680,316.2L684.6,309.6L686,311.8L691.3,320.1L692,317L696.9,295.3L698,294.5L700.6,292.7L704,295.8L705.8,297.5L710,300.5L712.4,302.2L716,310.1L716.9,312.1L722,300.8L722.9,298.8L728,311.9L733.6,327.6L734,327.7L735.6,328.2L738.3,324L740,327.6L745.2,339.1L746,337.8L752,328.2L754.1,324.9L758,331L758.8,332.1L764,325.7L764.3,325.3L768,328.7L769.3,329.6L770,327.2L770.8,324.3L773.6,309.3L774,307.8L776,303.6L776.4,302.7L777.3,300.3L782,285.1L787.1,268.6L787.5,268L788,270.1L793.1,293L794,291.9L799.6,284.6L800,285.5L803.3,293.5L804.2,294.6L806,293.5L807,292.9L808.8,292.4L809.4,293L811.6,297.4L812,299.1L812.6,301.8L815.7,317.3L816.3,319.3L818,318.3L818.1,318.2L820.9,317L821.8,317.9L823.7,326.6L824,327.9L825.5,334.8L829.3,340.3L830,341.5L832,345.1L833.9,347.8L834.8,348.7L836,349.9L836.7,350.6L838.5,353L841.3,357.1L842,358.1L844.1,361.1L845.6,359.8L847.4,361.3L848,359.8L851.1,351.4L853.9,351.1L854,351.1L854.5,350.9L856.3,337.2L857.1,327.4L857.6,324.9L860,325.5L862.3,326.2L866,325.6L867.8,325.4L872,325.1L873,325L876.5,333.1L876.7,333.4L878,330L879.9,324.7L883.6,317.4L884,315.1L887.3,296.3L889.7,274.4L890,272.1L890.1,271.3L892.5,272.3L892.9,273.1L895.7,284.3L896,281.9L897.9,267.2L899.4,246.4L902,240.3L902.2,239.8L905.3,230.4L908,238.6L909.6,243.5L911.4,247.5L912.4,244.8L914,238.6L915.7,232L917.9,239.8L920,250L920.7,253.4L921.6,255.7L922.6,250.1L924.6,236.8L924.8,236.4L926,248.8L926.3,251.9L927.6,266.3L928.1,270.1L930.9,267L932,265.8L934.6,263.1L937.4,269L938,271.2L938.3,272.2L939.8,277.1L941.2,283.1L943.3,291.5L944,293.6L944.3,294.5L947.3,306.3L950,301.5L950.4,300.7L956,296.6L956.5,296.3L960.6,302L962,302L963.7,302L966.7,293.6L968,293.6L969.8,293.7L972.9,284.8L974,288L975.9,293.4L980,318.5L982.7,332.3L986,333.2L986.1,333.3L990.2,338.6L992,339L995.3,339.8L998,336.8L999.4,335.3L1002.4,336.5L1004,337.7L1004.9,338.5L1005,338.5V426.3Z" fill="#d36cc4"/>
<path d="M228.8,426.3V415.7L230,414.5L236,409.6L241.7,405.1L242,405.1L244.2,405.2L248,405.7L250.8,406L254,403.1L255,402.1L260,399.8L265,396.6L266,396.1L267.5,395.4L272,392.2L273.3,391.3L278,394.2L280,395.5L283,388.2L283.3,388.4L284,389.1L286.7,391.7L287.5,390.7L290,386.6L293,381.7L293.3,381.9L295.8,384.7L296,385.1L299.2,392.7L302,386.3L302.2,386.1L305,396.7L308,398.7L309.2,399.4L312.5,394.7L314,395.4L315.8,396.3L318.3,394.1L320,390.4L322.5,384.8L325.8,381.9L326,381.8L328.3,379.9L331.7,372.8L332,372.5L334.2,370.3L337.8,360.4L338,360.6L344,368.6L344.2,368.8L347.5,365.8L350,367.8L353.3,370.3L356,392L356.7,397.3L360,398L362,399.5L363.3,400.4L365.8,399.6L368,402.7L369.2,404.4L373.3,413.6L374,412.5L376.3,408.4L379.7,411.6L380,411.4L386,405.9L386.7,405.3L391.7,400.8L392,400.8L395.8,400.3L398,396.9L398.7,395.9L402.5,402.3L404,402.9L405.8,403.7L409.2,402.3L410,401.3L411.7,399.2L415,403.7L416,404.2L418.3,405.3L422,405L423.3,404.8L428,405.2L430,405.3L434,398.9L434.2,398.7L436.7,397.9L440,405.3L445,406.2L446,406L451.7,405.3L452,405.4L456.7,406.5L458,406.3L460.8,405.8L464,405.8L465.8,405.8L470,399.5L473.3,397L476,397L476.7,397L479.2,395.7L482,397.9L482.5,398.3L485.8,395L488,395L489.2,395L491.7,394.5L494,396L495,396.7L498.3,389.6L500,389.5L501.7,389.5L506,387L507.5,386.2L510.8,381.2L512,383.2L514.2,386.9L518,385.1L520,384.2L524,385L526.7,385.6L530,382.6L533.3,379.6L536,381.8L538.3,383.7L542,380.3L545,377.5L548,376.7L549.2,376.4L553,374.4L554,374.8L556.7,375.6L559.2,375.3L560,375.3L562.5,375.5L565,374.8L566,376L568.3,378.6L569.2,379L572,378.5L573.3,378.3L576.7,377.5L578,377.2L578.3,377.2L583.3,376.6L584,376.1L588.3,372.9L590,373.6L591.7,374.4L595,375.7L596,374.4L600,369.2L602,366.4L603.3,364.6L605.8,361.1L606.7,359.9L607.5,359.8L608,360.2L610,361.7L613.3,356.9L614,355.9L614.5,355.1L619.2,348.3L620,348.5L620.1,348.5L623.3,350.3L625.6,349.5L626,349.4L629.2,348L630.1,348.2L632,348.9L632.8,349.2L633.4,348.1L636.2,339.4L636.8,339.3L638,340.5L643.3,345.7L643.4,345.7L644,345L646.7,342L647.9,339.5L650,334.3L650.5,333L650.8,331.6L654.6,313.4L656,307.8L661.9,284.1L662,284.3L666.8,299.3L667.9,301.2L668,301.2L671.3,298.2L672.4,298.8L674,304.7L677.9,319L680,316.2L684.6,309.6L686,311.8L691.3,320.1L692,317L696.9,295.3L698,294.5L700.6,292.7L704,295.8L705.8,297.5L710,300.5L712.4,302.2L716,310.1L716.9,312.1L722,300.8L722.9,298.8L728,311.9L733.6,327.6L734,327.7L735.6,328.3L738.3,324.2L740,327.8L745.2,339.4L746,338.2L752,329L754.1,325.8L758,332L758.8,333.1L764,327.1L764.3,326.7L768,330.3L769.3,331.3L770,328.8L770.8,325.8L773.6,311.5L774,310.2L776,305.9L776.4,305L777.3,302.6L782,287.9L787.1,271.9L787.5,271.1L788,273.2L793.1,295.8L794,294.7L799.6,288L800,289L803.3,296.6L804.2,297.9L806,297.1L807,296.6L808.8,296.2L809.4,296.8L811.6,300.8L812,302.5L812.6,305.3L815.7,320.2L816.3,322.4L818,321.4L818.1,321.4L820.9,320.1L821.8,320.7L823.7,328.8L824,330.1L825.5,336.5L829.3,342.2L830,343.4L832,346.9L833.9,349.5L834.8,350.5L836,351.9L836.7,352.6L838.5,355L841.3,359.2L842,360.2L844.1,363.3L845.6,362.4L847.4,364.1L848,362.6L851.1,354.5L853.9,354.3L854,354.3L854.5,354.1L856.3,339.2L857.1,330.4L857.6,329L860,329.5L862.3,330L866,329.4L867.8,329.1L872,328.6L873,328.5L876.5,336.2L876.7,336.5L878,333.1L879.9,327.9L883.6,320.5L884,318.3L887.3,300.4L889.7,278.7L890,276.3L890.1,275.5L892.5,276.9L892.9,277.6L895.7,288.3L896,285.7L897.9,269.6L899.4,251.1L902,244.9L902.2,244.4L905.3,235.7L908,243.6L909.6,248.3L911.4,252.5L912.4,249.7L914,243.9L915.7,237.7L917.9,245.7L920,255L920.7,258.2L921.6,260.9L922.6,255.2L924.6,242.3L924.8,241.6L926,253.6L926.3,256.6L927.6,270.2L928.1,274.4L930.9,271.6L932,270.4L934.6,267.7L937.4,273.8L938,275.6L938.3,276.6L939.8,280.7L941.2,286.5L943.3,295.3L944,297.4L944.3,298.4L947.3,309.4L950,304.8L950.4,304.1L956,300.1L956.5,299.8L960.6,305.3L962,305.3L963.7,305.3L966.7,297.1L968,297.1L969.8,297.3L972.9,288.6L974,291.5L975.9,296.6L980,321L982.7,334.6L986,335.6L986.1,335.6L990.2,340.8L992,341.3L995.3,342L998,339.2L999.4,337.7L1002.4,338.8L1004,340L1004.9,340.6L1005,340.6V426.3Z" fill="#9b9b9b"/>
<path d="M566,426.3V379.6L568.3,381.7L569.2,382.5L572,381.7L573.3,381.4L576.7,380.5L578,380.2L578.3,380.2L583.3,379.2L584,378.7L588.3,375.4L590,376L591.7,376.7L595,378L596,376.7L600,371.7L602,369.2L603.3,367.5L605.8,364.4L606.7,363.4L607.5,363.8L608,364.1L610,365.3L613.3,360.9L614,359.9L614.5,359.2L619.2,352.5L620,353.2L620.1,353.2L623.3,355.8L625.6,354.9L626,354.7L629.2,353.3L630.1,353.7L632,354.4L632.8,354.7L633.4,353L636.2,345L636.8,345.6L638,346.6L643.3,351.3L643.4,351.3L644,350.7L646.7,348.3L647.9,345.7L650,341.1L650.5,340L650.8,338.5L654.6,318.9L656,314.3L661.9,294.6L662,294.8L666.8,307.2L667.9,310.1L668,310.1L671.3,307.6L672.4,306.9L674,312.3L677.9,325.6L680,323L684.6,316.9L686,318.9L691.3,326.8L692,324L696.9,304.6L698,303.9L700.6,302.4L704,304.5L705.8,305.7L710,308.5L712.4,310.1L716,317.3L716.9,319.1L722,309.6L722.9,307.9L728,319L733.6,333.5L734,333.9L735.6,335.4L738.3,331.8L740,334.9L745.2,344.7L746,343.7L752,335.5L754.1,332.7L758,338.1L758.8,339.1L764,333.4L764.3,333.1L768,336.2L769.3,337.3L770,334.4L770.8,330.9L773.6,318.8L774,317.8L776,313.2L776.4,312.2L777.3,309.6L782,295.9L787.1,281L787.5,279.8L788,281.8L793.1,303L794,302.1L799.6,296.5L800,297.3L803.3,303.9L804.2,305.7L806,305.4L807,305.2L808.8,304.9L809.4,305.6L811.6,308.5L812,310.2L812.6,312.8L815.7,326.4L816.3,328.9L818,328.1L818.1,328L820.9,326.6L821.8,326.2L823.7,333.2L824,334.3L825.5,339.9L829.3,345.7L830,346.9L832,350.2L833.9,352.7L834.8,353.8L836,355.4L836.7,356.3L838.5,358.6L841.3,362.8L842,363.8L844.1,367L845.6,366.8L847.4,368.6L848,367.2L851.1,359.4L853.9,359.4L854,359.4L854.5,359.1L856.3,342.4L857.1,335.3L857.6,335.3L860,335.8L862.3,336.2L866,335.5L867.8,335.2L872,334.5L873,334.3L876.5,341.3L876.7,341.7L878,338.4L879.9,333.4L883.6,326L884,324L887.3,307.5L889.7,286.3L890,283.7L890.1,282.9L892.5,285.3L892.9,285.7L895.7,295.5L896,292.5L897.9,274L899.4,259.6L902,253.3L902.2,252.8L905.3,245.2L908,252.4L909.6,256.7L911.4,261.5L912.4,258.4L914,253.2L915.7,247.6L917.9,255.9L920,263.8L920.7,266.4L921.6,269.8L922.6,263.9L924.6,251.6L924.8,250.5L926,261.9L926.3,264.7L927.6,277L928.1,281.7L930.9,279.2L932,278.1L934.6,275.5L937.4,281.7L938,283.1L938.3,283.7L939.8,286.6L941.2,291.9L943.3,301.3L944,303.6L944.3,304.6L947.3,314.3L950,310.1L950.4,309.4L956,305.7L956.5,305.3L960.6,310.4L962,310.4L963.7,310.3L966.7,302.3L968,302.4L969.8,302.6L972.9,294.2L974,296.7L975.9,301.2L980,324.7L982.7,338L986,338.9L986.1,339L990.2,344.1L992,344.4L995.3,345.1L998,342.4L999.4,341L1002.4,342L1004,342.9L1004.9,343.5L1005,343.5V426.3Z" fill="#f4643f"/>
<path d="M110,426.3V426.2L116,426.2L122,426.2L128,426.2L130,426.2L134,426.1L140,426L146,425.7L150,425.5L152,425.4L158,425.3L160,425.2L164,424.9L167.5,424.5L170,424.2L175,423.8L176,423.6L181.2,422.8L182,422.4L185,420.8L187.5,419.2L188,419.3L190.5,419.5L193.8,422.7L194,422.7L197.5,421.8L200,421.2L201.2,421L206,421.2L206.2,421.2L210,421.8L212,420.9L213.8,420.2L217,420L218,420.2L220,420.5L223.8,418.7L224,418.6L228.8,415.7L230,414.5L236,409.8L241.7,405.3L242,405.4L244.2,405.6L248,406L250.8,406.3L254,403.4L255,402.5L260,400.3L265,397.5L266,397L267.5,396.3L272,393.4L273.3,392.5L278,395.4L280,396.7L283,389.2L283.3,389.5L284,390.2L286.7,392.9L287.5,391.7L290,387.7L293,383L293.3,383.4L295.8,386.3L296,386.7L299.2,394.1L302,387.4L302.2,387.1L305,397.5L308,399.5L309.2,400.3L312.5,395.8L314,396.6L315.8,397.5L318.3,395L320,391.3L322.5,385.8L325.8,383L326,382.9L328.3,380.9L331.7,374.1L332,373.8L334.2,371.6L337.8,362.6L338,362.7L344,370.3L344.2,370.5L347.5,367.5L350,369.3L353.3,371.6L356,393L356.7,398.3L360,399.2L362,400.7L363.3,401.6L365.8,400.8L368,404.1L369.2,405.9L373.3,415.6L374,414.5L376.3,410.4L379.7,413.6L380,413.4L386,407.9L386.7,407.3L391.7,402.8L392,402.8L395.8,402.3L398,398.9L398.7,397.9L402.5,404.3L404,404.9L405.8,405.7L409.2,404.3L410,403.3L411.7,401.2L415,405.7L416,406.2L418.3,407.3L422,407L423.3,406.8L428,407.2L430,407.3L434,400.9L434.2,400.7L436.7,399.9L440,407.3L445,408.2L446,408L451.7,407.3L452,407.4L456.7,408.5L458,408.3L460.8,407.8L464,407.8L465.8,407.8L470,401.5L473.3,399L476,399L476.7,399L479.2,397.7L482,399.9L482.5,400.3L485.8,397L488,397L489.2,397L491.7,396.5L494,398L495,398.7L498.3,391.6L500,391.5L501.7,391.5L506,389L507.5,388.2L510.8,383.2L512,385.4L514.2,389.7L518,388.2L520,387.5L524,388.2L526.7,388.6L530,385.6L533.3,382.5L536,384.7L538.3,386.6L542,383.5L545,380.8L548,379.9L549.2,379.5L553,378.3L554,378.5L556.7,379.1L559.2,379.7L560,379.5L562.5,379.1L565,378.7L566,379.6L568.3,381.7L569.2,382.5L572,382.2L573.3,382L576.7,381.7L578,381.6L578.3,381.6L583.3,381.3L584,381.1L588.3,379.7L590,380.2L591.7,380.7L595,381.7L596,380.5L600,375.8L602,373L603.3,371.1L605.8,367.5L606.7,367.9L607.5,368.3L608,368.5L610,369.5L613.3,365L614,364.1L614.5,363.5L619.2,357.5L620,358.1L620.1,358.1L623.3,360.3L625.6,359.6L626,359.4L629.2,358.3L630.1,358.7L632,359.4L632.8,359.7L633.4,358.1L636.2,350.4L636.8,350.9L638,352L643.3,357L643.4,356.9L644,356.4L646.7,354.1L647.9,350.7L650,344.8L650.5,343.4L650.8,342.6L654.6,327.8L656,323.4L661.9,304.6L662,304.8L666.8,317.3L667.9,320.1L668,320.1L671.3,318.5L672.4,318L674,323.5L677.9,336.7L680,334.8L684.6,330.2L686,331.8L691.3,338L692,335.2L696.9,315.7L698,314.4L700.6,311.3L704,314.9L705.8,316.8L710,318.9L712.4,320.1L716,327.3L716.9,329.1L722,319.6L722.9,318L728,327.9L733.6,343.5L734,343.4L735.6,342.8L738.3,339.2L740,342.9L745.2,354.5L746,353.6L752,346.1L754.1,343.5L758,349.2L758.8,350.2L764,344.5L764.3,344.2L768,347.7L769.3,349L770,346L770.8,342.4L773.6,329.9L774,329.6L776,328.3L776.4,328L777.3,325.8L782,314.6L787.1,302.5L787.5,301.5L788,303.3L793.1,322.4L794,321.4L799.6,315.1L800,316.1L803.3,324L804.2,326.2L806,325.8L807,325.6L808.8,325.3L809.4,326L811.6,328.9L812,330.3L812.6,332.4L815.7,343.6L816.3,345.6L818,345.1L818.1,345L820.9,344.1L821.8,343.8L823.7,351.7L824,353L825.5,359.4L829.3,361.5L830,363.4L832,368.7L833.9,368.2L834.8,367.9L836,369.1L836.7,369.8L838.5,371.6L841.3,374.4L842,375.1L844.1,377.2L845.6,377L847.4,378.8L848,377.8L851.1,372.4L853.9,372.7L854,372.7L854.5,372.5L856.3,359.4L857.1,353.8L857.6,353.8L860,354L862.3,354.2L866,354L867.8,354L872,353.8L873,353.8L876.5,359.9L876.7,360.2L878,358.4L879.9,355.6L883.6,351.9L884,350.1L887.3,335.3L889.7,324.1L890,322.7L890.1,322.3L892.5,319.9L892.9,319.6L895.7,328.5L896,326.6L897.9,314.7L899.4,305.5L902,300.2L902.2,299.8L905.3,293.5L908,299.6L909.6,303.3L911.4,307.4L912.4,305.4L914,302.1L915.7,298.5L917.9,304.9L920,311L920.7,313.1L921.6,315.7L922.6,312.9L924.6,307L924.8,306.6L926,312.9L926.3,314.5L927.6,321.3L928.1,324L930.9,321.7L932,320.8L934.6,318.6L937.4,320.4L938,322.2L938.3,323.2L939.8,327.8L941.2,333.8L943.3,339.1L944,340.8L944.3,341.6L947.3,349.1L950,344.8L950.4,344.1L956,339.4L956.5,339L960.6,343.5L962,343.5L963.7,343.4L966.7,338L968,338.4L969.8,339L972.9,333L974,335.5L975.9,340L980,353.3L982.7,362.5L986,363.4L986.1,363.5L990.2,367.1L992,367.5L995.3,368.2L998,366.4L999.4,365.5L1002.4,365.9L1004,367L1004.9,367.6L1005,367.6V426.3Z" fill="#4fadee"/>
<line x1="110" x2="1005" y1="426.8" y2="426.8" stroke="#6b6b6b" stroke-width="1.4"/>
<text x="102" y="174.29999999999998" text-anchor="end">80b</text>
<text x="102" y="238.5" text-anchor="end">60b</text>
<text x="102" y="302.20000000000005" text-anchor="end">40b</text>
<text x="102" y="366.6" text-anchor="end">20b</text>
<text x="102" y="429.90000000000003" text-anchor="end">0</text>
<text x="130.9" y="445" text-anchor="middle">Jan 2021</text>
<text x="298.3" y="445" text-anchor="middle">Jan 2022</text>
<text x="465.7" y="445" text-anchor="middle">Jan 2023</text>
<text x="633.1" y="445" text-anchor="middle">Jan 2024</text>
<text x="800.5" y="445" text-anchor="middle">Jan 2025</text>
<text x="967.9" y="445" text-anchor="middle">Jan 2026</text>
</svg>
<div class="legend">
<div class="li"><span class="lt">All</span><i style="background:#58585a"></i></div>
<div class="li"><span class="lt">Stakehouse</span><i style="background:#a0d95b"></i></div>
<div class="li"><span class="lt">pSTAKE LSD</span><i style="background:#3fae8f"></i></div>
<div class="li"><span class="lt">Adrastea LST</span><i style="background:#3f78ad"></i></div>
<div class="li"><span class="lt">Winter Walrus</span><i style="background:#f6b40e"></i></div>
<div class="li"><span class="lt">Deq</span><i style="background:#bb86c9"></i></div>
<div class="li"><span class="lt">Bitget SOL</span><i style="background:#6a6a6a"></i></div>
<div class="li"><span class="lt">Amulet Liquid Staking</span><i style="background:#f0964a"></i></div>
<div class="li"><span class="lt">SteakBank Finance</span><i style="background:#4e8a84"></i></div>
<div class="li"><span class="lt">xSui</span><i style="background:#6a2450"></i></div>
<div class="li"><span class="lt">Lido Impact Staking</span><i style="background:#9c3d62"></i></div>
<div class="li"><span class="lt">Goldsand by InshAllah</span><i style="background:#cc5a6e"></i></div>
<div class="li"><span class="lt">SpinUp Liquid Staking</span><i style="background:#de7074"></i></div>
<div class="li"><span class="lt">Bracket LST</span><i style="background:#ee8c7c"></i></div>
<div class="li"><span class="lt">Hord</span><i style="background:#f4b393"></i></div>
</div>
<div class="gl"></div>
<div class="rule"></div>
<div class="foot">Data as of: Apr. 02, 2026<span style="margin:0 8px 0 9px">|</span>Source:<span style="margin-left:7.5px;letter-spacing:0.7px">Dune</span></div>
<svg style="position:absolute;left:895px;top:480px" width="40" height="40" viewBox="895 480 40 40">
<path d="M914.8 486.5 A12.9 12.9 0 1 0 927.7 499.3 L921.7 499.3 A6.9 6.9 0 1 1 914.8 492.4 Z" fill="#1470f8"/>
<rect x="914.8" y="492.4" width="6.9" height="6.9" fill="#17e0a0"/>
</svg>
<div class="lg">Gate</div><div class="lr">Research</div>
</div></body></html>
